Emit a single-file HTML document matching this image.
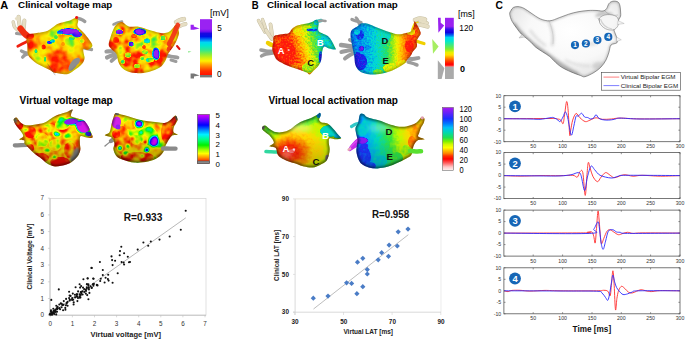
<!DOCTYPE html>
<html><head><meta charset="utf-8"><style>
html,body{margin:0;padding:0;background:#fff;width:685px;height:339px;overflow:hidden;}
svg{display:block;font-family:"Liberation Sans",sans-serif;}
</style></head><body>
<svg width="685" height="339" viewBox="0 0 685 339" font-family='"Liberation Sans", sans-serif'>
<defs><filter id="b0_5" x="-50%" y="-50%" width="200%" height="200%" color-interpolation-filters="sRGB"><feGaussianBlur stdDeviation="0.5"/></filter><filter id="b0_8" x="-50%" y="-50%" width="200%" height="200%" color-interpolation-filters="sRGB"><feGaussianBlur stdDeviation="0.8"/></filter><filter id="b1_2" x="-50%" y="-50%" width="200%" height="200%" color-interpolation-filters="sRGB"><feGaussianBlur stdDeviation="1.2"/></filter><filter id="b1_8" x="-50%" y="-50%" width="200%" height="200%" color-interpolation-filters="sRGB"><feGaussianBlur stdDeviation="1.8"/></filter><filter id="b2_5" x="-50%" y="-50%" width="200%" height="200%" color-interpolation-filters="sRGB"><feGaussianBlur stdDeviation="2.5"/></filter><filter id="b3_5" x="-50%" y="-50%" width="200%" height="200%" color-interpolation-filters="sRGB"><feGaussianBlur stdDeviation="3.5"/></filter><clipPath id="A1c"><path d="M27.5,34.6 C29.0,33.6 33.1,33.5 35.3,33.2 C37.5,32.9 38.8,32.9 40.5,32.6 C42.2,32.3 44.1,32.0 45.6,31.5 C47.1,31.0 48.4,30.2 49.8,29.4 C51.2,28.5 52.5,27.3 53.9,26.4 C55.3,25.5 56.3,24.5 58.0,23.8 C59.7,23.1 62.0,22.6 64.0,22.0 C66.0,21.4 68.1,21.2 70.0,20.5 C71.9,19.8 74.1,18.0 75.5,18.0 C76.9,18.0 77.9,19.2 78.2,20.5 C78.5,21.8 76.9,24.2 77.5,26.0 C78.1,27.8 80.2,29.0 82.0,31.0 C83.8,33.0 86.3,35.6 88.0,38.0 C89.7,40.4 92.4,43.5 92.4,45.5 C92.4,47.5 89.5,49.2 88.0,49.8 C86.5,50.4 84.2,48.3 83.5,49.0 C82.8,49.7 83.6,52.5 83.8,54.0 C84.0,55.5 84.7,56.7 84.6,58.0 C84.5,59.3 84.1,60.8 83.4,62.0 C82.7,63.2 81.8,64.2 80.5,65.4 C79.2,66.6 77.4,68.0 75.6,69.3 C73.8,70.6 71.4,72.4 69.8,73.2 C68.2,74.0 67.7,74.2 65.9,74.2 C64.1,74.2 61.1,73.6 59.1,73.4 C57.1,73.2 55.7,73.3 54.2,72.8 C52.7,72.3 51.9,71.2 50.3,70.3 C48.7,69.4 46.8,68.5 44.5,67.4 C42.2,66.3 39.0,65.0 36.7,63.5 C34.4,62.0 32.3,60.2 30.8,58.6 C29.3,57.0 28.4,56.0 27.8,53.8 C27.2,51.6 27.5,47.9 27.3,45.4 C27.1,42.9 26.5,40.8 26.5,39.0 C26.5,37.2 26.0,35.6 27.5,34.6Z"/></clipPath><filter id="A1f" x="-5%" y="-5%" width="110%" height="110%" color-interpolation-filters="sRGB"><feTurbulence type="fractalNoise" baseFrequency="0.12" numOctaves="2" seed="3" result="n0"/><feColorMatrix in="n0" type="matrix" values="1 0 0 0 0  1 0 0 0 0  1 0 0 0 0  0 0 0 0 1" result="n"/><feComposite in="SourceGraphic" in2="n" operator="arithmetic" k1="0" k2="1" k3="0.42" k4="-0.210" result="vn"/><feComponentTransfer in="vn"><feFuncR type="table" tableValues="1.000 1.000 1.000 0.980 0.550 0.150 0.000 0.020 0.100 0.450 0.600"/><feFuncG type="table" tableValues="0.080 0.450 0.780 0.950 0.930 0.900 0.880 0.450 0.100 0.080 0.120"/><feFuncB type="table" tableValues="0.000 0.000 0.000 0.000 0.100 0.350 0.850 0.980 0.950 0.950 0.950"/><feFuncA type="linear" slope="0" intercept="1"/></feComponentTransfer></filter><clipPath id="A2c"><path d="M113.5,29.0 C114.7,26.5 115.6,25.2 117.0,24.0 C118.4,22.8 120.1,21.6 122.1,22.0 C124.1,22.4 126.2,25.8 128.8,26.6 C131.4,27.4 133.9,26.0 137.6,26.6 C141.3,27.2 146.8,29.4 150.9,30.5 C155.0,31.6 159.0,32.9 161.9,33.2 C164.8,33.5 166.8,33.0 168.6,32.1 C170.4,31.2 171.7,29.3 173.0,28.0 C174.3,26.7 175.3,23.8 176.3,24.5 C177.3,25.2 178.8,29.7 179.0,32.1 C179.2,34.5 178.2,36.6 177.4,38.8 C176.6,41.0 175.6,43.0 174.1,45.4 C172.6,47.8 170.1,50.5 168.6,53.1 C167.1,55.7 166.8,58.5 165.3,60.9 C163.8,63.3 162.5,65.7 159.7,67.5 C156.9,69.3 152.8,71.0 148.7,71.9 C144.6,72.8 139.5,73.5 135.4,73.1 C131.3,72.7 127.1,71.4 124.3,69.7 C121.5,68.0 120.1,65.7 118.8,63.1 C117.5,60.5 117.7,56.4 116.6,54.2 C115.5,52.0 113.5,51.3 112.2,49.8 C110.9,48.3 109.2,47.2 108.8,45.4 C108.4,43.6 109.2,41.5 110.0,38.8 C110.8,36.1 112.3,31.5 113.5,29.0Z"/></clipPath><filter id="A2f" x="-5%" y="-5%" width="110%" height="110%" color-interpolation-filters="sRGB"><feTurbulence type="fractalNoise" baseFrequency="0.12" numOctaves="2" seed="5" result="n0"/><feColorMatrix in="n0" type="matrix" values="1 0 0 0 0  1 0 0 0 0  1 0 0 0 0  0 0 0 0 1" result="n"/><feComposite in="SourceGraphic" in2="n" operator="arithmetic" k1="0" k2="1" k3="0.65" k4="-0.325" result="vn"/><feComponentTransfer in="vn"><feFuncR type="table" tableValues="1.000 1.000 1.000 0.980 0.550 0.150 0.000 0.020 0.100 0.450 0.600"/><feFuncG type="table" tableValues="0.080 0.450 0.780 0.950 0.930 0.900 0.880 0.450 0.100 0.080 0.120"/><feFuncB type="table" tableValues="0.000 0.000 0.000 0.000 0.100 0.350 0.850 0.980 0.950 0.950 0.950"/><feFuncA type="linear" slope="0" intercept="1"/></feComponentTransfer></filter><clipPath id="A3c"><path d="M13.6,119.8 C13.6,118.4 15.4,117.1 16.5,117.5 C17.6,117.9 18.8,121.0 20.4,122.3 C22.0,123.6 23.2,124.9 26.1,125.2 C29.0,125.5 34.4,124.7 37.6,124.2 C40.8,123.7 43.0,123.3 45.3,122.3 C47.5,121.3 48.9,119.7 51.1,118.4 C53.3,117.1 56.2,115.6 58.7,114.6 C61.2,113.6 64.1,113.0 66.4,112.2 C68.7,111.4 71.7,109.2 72.5,109.5 C73.3,109.8 71.4,112.5 71.2,113.7 C71.0,114.9 70.4,115.7 71.5,116.5 C72.6,117.3 75.9,117.8 77.9,118.4 C79.9,119.0 82.1,119.2 83.7,120.3 C85.3,121.4 86.4,123.3 87.5,125.1 C88.6,126.9 89.6,128.8 90.4,130.9 C91.2,133.0 93.4,136.6 92.6,137.6 C91.8,138.6 87.6,137.4 85.6,137.2 C83.6,137.0 81.5,135.2 80.5,136.2 C79.5,137.2 79.9,141.2 79.9,143.4 C79.9,145.6 80.6,147.2 80.4,149.1 C80.2,151.0 79.7,153.0 78.5,154.9 C77.3,156.8 75.1,159.1 73.1,160.7 C71.1,162.3 69.4,163.6 66.4,164.5 C63.4,165.4 58.1,166.6 54.9,166.4 C51.7,166.2 49.4,164.8 47.2,163.5 C45.0,162.2 43.7,160.4 41.5,158.7 C39.3,156.9 36.0,154.9 33.8,153.0 C31.5,151.1 29.6,148.8 28.0,147.2 C26.4,145.6 25.1,144.6 24.5,143.5 C23.9,142.4 25.1,141.2 24.2,140.5 C23.3,139.8 19.6,140.2 19.4,139.5 C19.2,138.8 22.9,137.5 23.2,136.2 C23.5,134.9 22.4,133.6 21.3,131.9 C20.2,130.2 17.8,128.1 16.5,126.1 C15.2,124.1 13.6,121.2 13.6,119.8Z"/></clipPath><filter id="A3f" x="-5%" y="-5%" width="110%" height="110%" color-interpolation-filters="sRGB"><feTurbulence type="fractalNoise" baseFrequency="0.12" numOctaves="2" seed="7" result="n0"/><feColorMatrix in="n0" type="matrix" values="1 0 0 0 0  1 0 0 0 0  1 0 0 0 0  0 0 0 0 1" result="n"/><feComposite in="SourceGraphic" in2="n" operator="arithmetic" k1="0" k2="1" k3="0.6" k4="-0.300" result="vn"/><feComponentTransfer in="vn"><feFuncR type="table" tableValues="1.000 1.000 1.000 0.980 0.550 0.050 0.000 0.000 0.000 0.100 0.550 0.880"/><feFuncG type="table" tableValues="0.050 0.450 0.800 0.980 0.980 0.950 0.950 0.900 0.400 0.050 0.000 0.000"/><feFuncB type="table" tableValues="0.000 0.000 0.000 0.000 0.000 0.100 0.600 1.000 1.000 1.000 1.000 1.000"/><feFuncA type="linear" slope="0" intercept="1"/></feComponentTransfer></filter><linearGradient id="A3s" gradientUnits="userSpaceOnUse" x1="0" y1="134.8" x2="0" y2="169.4"><stop offset="0" stop-color="#000" stop-opacity="0"/><stop offset="1" stop-color="#000" stop-opacity="0.3"/></linearGradient><clipPath id="A4c"><path d="M113.4,117.5 C114.1,115.7 114.1,113.7 115.4,113.2 C116.7,112.7 118.9,114.0 121.1,114.6 C123.3,115.1 125.9,115.7 128.8,116.5 C131.7,117.3 135.2,118.6 138.4,119.4 C141.6,120.2 144.8,120.8 148.0,121.3 C151.2,121.8 154.7,122.0 157.6,122.3 C160.5,122.5 163.1,123.3 165.3,122.8 C167.5,122.3 169.3,120.6 171.0,119.4 C172.7,118.2 174.4,115.6 175.5,115.6 C176.6,115.6 177.4,118.2 177.5,119.5 C177.6,120.8 176.6,121.9 176.0,123.2 C175.4,124.5 174.3,125.6 173.9,127.1 C173.5,128.5 172.9,130.6 173.5,131.9 C174.1,133.2 177.9,134.2 177.7,134.8 C177.4,135.4 173.8,134.4 172.0,135.7 C170.2,137.0 168.3,140.6 167.2,142.4 C166.1,144.2 166.0,144.7 165.3,146.3 C164.7,147.9 164.6,150.1 163.3,152.0 C162.0,153.9 160.2,156.2 157.6,157.8 C155.0,159.4 151.8,160.8 148.0,161.6 C144.2,162.4 138.7,162.9 134.5,162.6 C130.3,162.3 126.0,160.8 123.0,159.7 C120.0,158.6 117.9,157.7 116.3,155.9 C114.7,154.1 113.7,151.2 113.4,149.1 C113.1,147.0 114.7,145.3 114.4,143.4 C114.1,141.5 113.1,138.8 111.5,137.5 C109.9,136.2 105.1,136.2 104.8,135.3 C104.5,134.4 108.5,133.8 109.6,131.9 C110.7,130.1 110.9,126.6 111.5,124.2 C112.1,121.8 112.8,119.3 113.4,117.5Z"/></clipPath><filter id="A4f" x="-5%" y="-5%" width="110%" height="110%" color-interpolation-filters="sRGB"><feTurbulence type="fractalNoise" baseFrequency="0.12" numOctaves="2" seed="9" result="n0"/><feColorMatrix in="n0" type="matrix" values="1 0 0 0 0  1 0 0 0 0  1 0 0 0 0  0 0 0 0 1" result="n"/><feComposite in="SourceGraphic" in2="n" operator="arithmetic" k1="0" k2="1" k3="0.5" k4="-0.250" result="vn"/><feComponentTransfer in="vn"><feFuncR type="table" tableValues="1.000 1.000 1.000 0.980 0.550 0.050 0.000 0.000 0.000 0.100 0.550 0.880"/><feFuncG type="table" tableValues="0.050 0.450 0.800 0.980 0.980 0.950 0.950 0.900 0.400 0.050 0.000 0.000"/><feFuncB type="table" tableValues="0.000 0.000 0.000 0.000 0.000 0.100 0.600 1.000 1.000 1.000 1.000 1.000"/><feFuncA type="linear" slope="0" intercept="1"/></feComponentTransfer></filter><linearGradient id="A4s" gradientUnits="userSpaceOnUse" x1="0" y1="135.1" x2="0" y2="165.6"><stop offset="0" stop-color="#000" stop-opacity="0"/><stop offset="1" stop-color="#000" stop-opacity="0.35"/></linearGradient><clipPath id="B1c"><path d="M274.2,36.1 C275.6,34.8 279.5,34.7 281.9,34.2 C284.3,33.7 287.0,34.0 288.6,33.2 C290.2,32.4 290.4,30.5 291.5,29.4 C292.6,28.3 293.7,27.3 295.3,26.5 C296.9,25.7 299.2,25.1 301.1,24.6 C303.0,24.1 304.9,24.1 306.8,23.6 C308.7,23.1 311.0,22.3 312.6,21.7 C314.2,21.1 315.4,19.6 316.4,19.8 C317.4,20.0 318.3,21.2 318.6,23.0 C318.9,24.8 317.7,28.7 318.3,30.4 C318.9,32.1 320.6,32.2 322.2,33.2 C323.8,34.2 326.3,34.8 327.9,36.1 C329.5,37.4 330.7,39.1 331.8,40.9 C332.9,42.7 334.1,45.3 334.7,46.7 C335.3,48.1 336.6,49.2 335.6,49.5 C334.6,49.8 330.8,49.1 328.9,48.6 C327.0,48.1 325.2,46.2 324.1,46.7 C323.0,47.2 322.7,49.3 322.2,51.5 C321.7,53.7 321.8,57.7 321.2,60.1 C320.6,62.5 319.6,64.1 318.3,65.9 C317.0,67.7 314.9,69.3 313.5,70.7 C312.1,72.1 310.8,74.2 309.7,74.5 C308.6,74.8 308.1,73.2 306.8,72.6 C305.5,72.0 304.2,71.5 302.0,70.7 C299.8,69.9 296.4,68.9 293.4,67.8 C290.4,66.7 286.5,65.2 283.8,63.9 C281.1,62.6 278.7,61.5 277.1,60.1 C275.5,58.7 275.0,57.1 274.2,55.3 C273.4,53.5 272.5,51.7 272.3,49.5 C272.1,47.3 272.9,44.1 273.2,41.9 C273.5,39.7 272.8,37.4 274.2,36.1Z"/></clipPath><filter id="B1f" x="-5%" y="-5%" width="110%" height="110%" color-interpolation-filters="sRGB"><feTurbulence type="fractalNoise" baseFrequency="0.55" numOctaves="2" seed="11" result="n0"/><feColorMatrix in="n0" type="matrix" values="1 0 0 0 0  1 0 0 0 0  1 0 0 0 0  0 0 0 0 1" result="n"/><feComposite in="SourceGraphic" in2="n" operator="arithmetic" k1="0" k2="1" k3="0.28" k4="-0.140" result="vn"/><feComponentTransfer in="vn"><feFuncR type="table" tableValues="1.000 1.000 1.000 0.950 0.550 0.150 0.000 0.000 0.080 0.500"/><feFuncG type="table" tableValues="0.100 0.450 0.750 0.950 0.920 0.880 0.850 0.500 0.120 0.100"/><feFuncB type="table" tableValues="0.050 0.000 0.000 0.000 0.100 0.400 0.850 0.950 0.900 0.920"/><feFuncA type="linear" slope="0" intercept="1"/></feComponentTransfer></filter><linearGradient id="B1g" gradientUnits="userSpaceOnUse" x1="282" y1="55" x2="330" y2="40"><stop offset="0" stop-color="rgb(0,0,0)"/><stop offset="0.25" stop-color="rgb(10,10,10)"/><stop offset="0.42" stop-color="rgb(51,51,51)"/><stop offset="0.55" stop-color="rgb(92,92,92)"/><stop offset="0.7" stop-color="rgb(128,128,128)"/><stop offset="0.82" stop-color="rgb(153,153,153)"/><stop offset="1" stop-color="rgb(171,171,171)"/></linearGradient><clipPath id="B2c"><path d="M351.5,30.4 C352.6,28.8 355.7,27.6 357.3,26.5 C358.9,25.4 359.5,24.1 361.1,23.6 C362.7,23.1 364.7,23.1 366.9,23.6 C369.1,24.1 371.9,25.5 374.5,26.5 C377.1,27.5 379.6,28.4 382.2,29.4 C384.8,30.4 387.3,31.5 389.9,32.3 C392.5,33.1 395.0,34.1 397.6,34.2 C400.2,34.4 403.1,33.7 405.3,33.2 C407.5,32.7 409.6,32.4 411.0,31.3 C412.4,30.2 413.2,28.1 413.9,26.5 C414.5,24.9 413.8,20.5 414.9,21.5 C416.0,22.5 420.0,29.7 420.6,32.3 C421.2,34.9 419.3,35.7 418.7,37.1 C418.1,38.5 417.1,39.3 416.8,40.9 C416.5,42.5 417.5,44.9 416.8,46.7 C416.1,48.5 413.9,50.1 412.9,51.5 C411.9,52.9 412.0,53.9 411.0,55.3 C410.0,56.7 407.9,58.7 407.0,60.0 C406.1,61.3 406.6,61.9 405.3,63.0 C404.1,64.1 401.8,65.5 399.5,66.8 C397.2,68.1 394.7,69.6 391.8,70.7 C388.9,71.8 385.4,72.9 382.2,73.5 C379.0,74.1 375.5,74.5 372.6,74.5 C369.7,74.5 367.2,74.1 365.0,73.5 C362.8,72.9 360.8,72.1 359.2,70.7 C357.6,69.3 356.2,67.2 355.4,64.9 C354.6,62.7 354.8,59.7 354.4,57.2 C354.0,54.7 353.5,52.5 353.0,50.0 C352.5,47.5 351.9,44.2 351.5,41.9 C351.1,39.6 350.6,38.0 350.6,36.1 C350.6,34.2 350.4,32.0 351.5,30.4Z"/></clipPath><filter id="B2f" x="-5%" y="-5%" width="110%" height="110%" color-interpolation-filters="sRGB"><feTurbulence type="fractalNoise" baseFrequency="0.55" numOctaves="2" seed="13" result="n0"/><feColorMatrix in="n0" type="matrix" values="1 0 0 0 0  1 0 0 0 0  1 0 0 0 0  0 0 0 0 1" result="n"/><feComposite in="SourceGraphic" in2="n" operator="arithmetic" k1="0" k2="1" k3="0.2" k4="-0.100" result="vn"/><feComponentTransfer in="vn"><feFuncR type="table" tableValues="1.000 1.000 1.000 0.950 0.550 0.150 0.000 0.000 0.080 0.500"/><feFuncG type="table" tableValues="0.100 0.450 0.750 0.950 0.920 0.880 0.850 0.500 0.120 0.100"/><feFuncB type="table" tableValues="0.050 0.000 0.000 0.000 0.100 0.400 0.850 0.950 0.900 0.920"/><feFuncA type="linear" slope="0" intercept="1"/></feComponentTransfer></filter><linearGradient id="B2g" gradientUnits="userSpaceOnUse" x1="350" y1="45" x2="418" y2="45"><stop offset="0" stop-color="rgb(204,204,204)"/><stop offset="0.18" stop-color="rgb(189,189,189)"/><stop offset="0.37" stop-color="rgb(171,171,171)"/><stop offset="0.52" stop-color="rgb(148,148,148)"/><stop offset="0.62" stop-color="rgb(115,115,115)"/><stop offset="0.71" stop-color="rgb(76,76,76)"/><stop offset="0.8" stop-color="rgb(36,36,36)"/><stop offset="0.9" stop-color="rgb(8,8,8)"/><stop offset="1" stop-color="rgb(20,20,20)"/></linearGradient><clipPath id="B3c"><path d="M262.4,126.8 C262.8,126.1 263.8,125.1 265.1,125.6 C266.4,126.0 268.6,128.4 270.4,129.5 C272.2,130.6 273.6,131.7 275.7,132.1 C277.8,132.5 280.4,132.5 282.8,132.1 C285.2,131.7 287.5,130.8 289.9,129.5 C292.2,128.2 294.5,125.7 296.9,124.2 C299.2,122.7 301.6,121.6 304.0,120.6 C306.4,119.6 309.0,118.9 311.1,118.0 C313.2,117.1 314.9,116.2 316.4,115.3 C317.9,114.4 319.2,112.7 319.9,112.7 C320.6,112.7 320.9,114.1 320.8,115.3 C320.7,116.5 319.0,118.5 319.1,119.7 C319.2,120.9 320.4,121.8 321.7,122.4 C323.0,123.0 325.2,122.4 327.0,123.3 C328.8,124.2 330.5,125.9 332.3,127.7 C334.1,129.5 336.1,132.1 337.6,133.9 C339.1,135.7 341.5,137.4 341.2,138.3 C340.9,139.2 337.8,139.2 335.9,139.2 C334.0,139.2 330.9,137.7 329.7,138.3 C328.5,138.9 328.8,140.9 328.8,142.7 C328.8,144.5 329.7,146.8 329.7,148.9 C329.7,151.0 329.4,153.0 328.8,155.1 C328.2,157.2 327.6,159.7 326.1,161.3 C324.6,162.9 322.2,163.9 320.0,164.9 C317.8,165.9 315.6,167.2 312.9,167.5 C310.2,167.8 306.7,167.2 304.0,166.6 C301.3,166.0 299.5,164.9 296.9,164.0 C294.2,163.1 290.8,162.3 288.1,161.3 C285.5,160.3 282.8,159.0 281.0,157.8 C279.2,156.6 278.4,155.8 277.5,154.2 C276.6,152.6 277.0,149.3 275.7,148.0 C274.4,146.7 269.8,147.2 269.5,146.3 C269.2,145.4 273.8,144.3 273.9,142.7 C274.0,141.1 271.9,138.3 270.4,136.5 C268.9,134.7 266.4,133.3 265.1,132.1 C263.8,130.9 262.8,130.4 262.4,129.5 C261.9,128.6 261.9,127.5 262.4,126.8Z"/></clipPath><filter id="B3f" x="-5%" y="-5%" width="110%" height="110%" color-interpolation-filters="sRGB"><feTurbulence type="fractalNoise" baseFrequency="0.3" numOctaves="2" seed="15" result="n0"/><feColorMatrix in="n0" type="matrix" values="1 0 0 0 0  1 0 0 0 0  1 0 0 0 0  0 0 0 0 1" result="n"/><feComposite in="SourceGraphic" in2="n" operator="arithmetic" k1="0" k2="1" k3="0.1" k4="-0.050" result="vn"/><feComponentTransfer in="vn"><feFuncR type="table" tableValues="1.000 1.000 1.000 1.000 0.750 0.200 0.000 0.000 0.100 0.550"/><feFuncG type="table" tableValues="0.450 0.080 0.500 0.850 0.980 0.900 0.850 0.650 0.200 0.100"/><feFuncB type="table" tableValues="0.450 0.020 0.000 0.000 0.000 0.250 0.750 1.000 1.000 0.950"/><feFuncA type="linear" slope="0" intercept="1"/></feComponentTransfer></filter><linearGradient id="B3s" gradientUnits="userSpaceOnUse" x1="0" y1="137.1" x2="0" y2="170.5"><stop offset="0" stop-color="#000" stop-opacity="0"/><stop offset="1" stop-color="#000" stop-opacity="0.22"/></linearGradient><clipPath id="B4c"><path d="M358.2,122.4 C358.9,120.2 359.0,115.8 359.9,114.4 C360.8,113.0 362.3,113.5 363.5,113.9 C364.7,114.4 365.5,116.3 367.0,117.1 C368.5,117.9 370.2,118.2 372.3,118.8 C374.4,119.4 377.0,119.8 379.4,120.6 C381.8,121.3 383.9,122.4 386.5,123.3 C389.1,124.2 392.4,125.3 395.3,125.9 C398.2,126.5 401.5,127.0 404.2,126.8 C406.9,126.6 409.2,125.7 411.3,125.0 C413.4,124.3 415.1,123.4 416.6,122.4 C418.1,121.4 419.2,119.7 420.1,118.8 C421.0,117.9 421.2,117.1 421.9,117.1 C422.6,117.1 424.2,117.8 424.5,118.8 C424.8,119.8 424.2,121.8 423.6,123.3 C423.0,124.8 421.7,126.1 421.0,127.7 C420.3,129.3 419.6,131.5 419.2,133.0 C418.8,134.5 417.4,135.5 418.3,136.5 C419.2,137.5 424.5,138.6 424.5,139.2 C424.5,139.8 419.9,139.4 418.3,140.1 C416.7,140.8 415.7,142.3 414.8,143.6 C413.9,144.9 413.6,146.1 413.0,148.0 C412.4,149.9 412.5,153.3 411.3,155.1 C410.1,156.9 408.3,157.4 405.9,158.7 C403.5,160.0 400.1,161.8 397.1,163.1 C394.2,164.4 391.4,165.7 388.2,166.6 C384.9,167.5 380.8,168.2 377.6,168.4 C374.4,168.6 371.5,168.2 368.8,167.5 C366.1,166.8 363.5,165.5 361.7,164.0 C359.9,162.5 359.1,160.8 358.2,158.7 C357.3,156.6 356.6,153.7 356.4,151.6 C356.2,149.5 356.6,147.9 356.8,146.0 C357.0,144.1 357.6,142.2 357.5,140.0 C357.4,137.8 356.3,135.1 356.0,133.0 C355.7,130.9 355.1,129.5 355.5,127.7 C355.9,125.9 357.5,124.6 358.2,122.4Z"/></clipPath><filter id="B4f" x="-5%" y="-5%" width="110%" height="110%" color-interpolation-filters="sRGB"><feTurbulence type="fractalNoise" baseFrequency="0.3" numOctaves="2" seed="17" result="n0"/><feColorMatrix in="n0" type="matrix" values="1 0 0 0 0  1 0 0 0 0  1 0 0 0 0  0 0 0 0 1" result="n"/><feComposite in="SourceGraphic" in2="n" operator="arithmetic" k1="0" k2="1" k3="0.1" k4="-0.050" result="vn"/><feComponentTransfer in="vn"><feFuncR type="table" tableValues="1.000 1.000 1.000 1.000 0.750 0.200 0.000 0.000 0.100 0.550"/><feFuncG type="table" tableValues="0.450 0.080 0.500 0.850 0.980 0.900 0.850 0.650 0.200 0.100"/><feFuncB type="table" tableValues="0.450 0.020 0.000 0.000 0.000 0.250 0.750 1.000 1.000 0.950"/><feFuncA type="linear" slope="0" intercept="1"/></feComponentTransfer></filter><linearGradient id="B4g" gradientUnits="userSpaceOnUse" x1="352" y1="140" x2="422" y2="128"><stop offset="0" stop-color="rgb(219,219,219)"/><stop offset="0.18" stop-color="rgb(199,199,199)"/><stop offset="0.33" stop-color="rgb(173,173,173)"/><stop offset="0.5" stop-color="rgb(145,145,145)"/><stop offset="0.64" stop-color="rgb(117,117,117)"/><stop offset="0.78" stop-color="rgb(89,89,89)"/><stop offset="0.9" stop-color="rgb(64,64,64)"/><stop offset="1" stop-color="rgb(76,76,76)"/></linearGradient><linearGradient id="B4s" gradientUnits="userSpaceOnUse" x1="0" y1="138.1" x2="0" y2="171.4"><stop offset="0" stop-color="#000" stop-opacity="0"/><stop offset="1" stop-color="#000" stop-opacity="0.22"/></linearGradient><radialGradient id="cg" cx="0.55" cy="0.4" r="0.7"><stop offset="0" stop-color="#ffffff"/><stop offset="0.55" stop-color="#f8f8f8"/><stop offset="0.85" stop-color="#e6e6e6"/><stop offset="1" stop-color="#cfcfcf"/></radialGradient><clipPath id="Cc"><path d="M510.9,10.6 C511.5,9.5 512.1,8.2 513.3,7.5 C514.5,6.8 516.2,6.5 518.0,6.6 C519.8,6.7 521.7,7.2 523.9,8.3 C526.1,9.4 528.2,11.2 531.0,13.0 C533.8,14.8 537.3,17.6 540.4,18.9 C543.5,20.2 546.7,21.0 549.8,20.8 C552.9,20.6 556.1,18.8 559.2,17.7 C562.4,16.6 565.6,15.2 568.7,14.2 C571.8,13.2 574.8,12.4 578.0,11.8 C581.2,11.2 584.8,10.7 588.0,10.5 C591.2,10.3 594.5,10.4 597.0,10.5 C599.5,10.6 601.4,11.3 603.0,11.0 C604.6,10.7 605.5,10.1 606.5,8.8 C607.5,7.6 607.9,4.8 609.0,3.5 C610.1,2.2 611.5,1.4 613.0,1.2 C614.5,0.9 616.8,1.2 618.0,2.0 C619.2,2.8 619.6,4.3 620.0,6.0 C620.4,7.7 620.5,10.3 620.6,12.0 C620.7,13.7 620.9,15.0 620.6,16.2 C620.3,17.4 619.5,18.0 619.0,19.0 C618.5,20.0 618.1,20.7 617.6,22.0 C617.1,23.3 616.6,25.8 616.0,27.0 C615.4,28.2 614.1,28.3 614.0,29.5 C613.9,30.7 614.9,32.5 615.4,34.0 C615.9,35.5 616.8,37.0 617.0,38.5 C617.2,40.0 617.9,41.7 616.9,42.8 C615.9,43.9 612.3,43.5 611.0,45.0 C609.7,46.5 609.8,49.5 609.0,52.0 C608.2,54.5 607.3,57.5 606.0,60.0 C604.7,62.5 603.0,64.9 601.0,67.0 C599.0,69.1 596.7,70.9 594.0,72.5 C591.3,74.1 587.2,76.2 585.0,76.7 C582.8,77.2 582.8,76.3 580.5,75.5 C578.2,74.7 574.1,73.3 571.0,71.9 C567.9,70.5 564.1,68.8 561.6,67.2 C559.1,65.6 557.7,64.3 555.7,62.5 C553.7,60.7 552.0,58.4 549.8,56.6 C547.6,54.8 545.1,53.5 542.7,51.9 C540.4,50.3 538.1,49.2 535.7,47.2 C533.4,45.2 531.0,42.3 528.6,40.1 C526.2,37.9 523.5,36.2 521.5,34.2 C519.5,32.2 518.4,30.5 516.8,28.3 C515.2,26.1 513.2,23.6 512.0,21.2 C510.8,18.8 509.9,16.0 509.7,14.2 C509.5,12.4 510.3,11.7 510.9,10.6Z"/></clipPath><linearGradient id="cbA1" x1="0" y1="0" x2="0" y2="1"><stop offset="0.000" stop-color="#9a22f2"/><stop offset="0.175" stop-color="#9a22f2"/><stop offset="0.220" stop-color="#6a10f0"/><stop offset="0.255" stop-color="#1a08e0"/><stop offset="0.309" stop-color="#0010e8"/><stop offset="0.362" stop-color="#0070f8"/><stop offset="0.416" stop-color="#00d8f0"/><stop offset="0.470" stop-color="#00e8d0"/><stop offset="0.550" stop-color="#30e890"/><stop offset="0.621" stop-color="#80ec40"/><stop offset="0.693" stop-color="#d0f010"/><stop offset="0.746" stop-color="#fff000"/><stop offset="0.800" stop-color="#ffb000"/><stop offset="0.862" stop-color="#ff7000"/><stop offset="0.925" stop-color="#ff3000"/><stop offset="1.000" stop-color="#ff1000"/></linearGradient><linearGradient id="cbA2" x1="0" y1="0" x2="0" y2="1"><stop offset="0.000" stop-color="#d800ff"/><stop offset="0.077" stop-color="#9000ff"/><stop offset="0.217" stop-color="#0000ff"/><stop offset="0.313" stop-color="#0080ff"/><stop offset="0.410" stop-color="#00f0ff"/><stop offset="0.517" stop-color="#00ff80"/><stop offset="0.624" stop-color="#00f000"/><stop offset="0.721" stop-color="#a0ff00"/><stop offset="0.796" stop-color="#ffff00"/><stop offset="0.882" stop-color="#ff9000"/><stop offset="0.964" stop-color="#ff1000"/><stop offset="1.000" stop-color="#ff0000"/></linearGradient><linearGradient id="cbB1" x1="0" y1="0" x2="0" y2="1"><stop offset="0.000" stop-color="#9a22f0"/><stop offset="0.173" stop-color="#9a22f0"/><stop offset="0.235" stop-color="#3010e8"/><stop offset="0.298" stop-color="#1000e0"/><stop offset="0.351" stop-color="#0060f0"/><stop offset="0.402" stop-color="#00d8f0"/><stop offset="0.473" stop-color="#00e8d0"/><stop offset="0.555" stop-color="#40e880"/><stop offset="0.637" stop-color="#80ec30"/><stop offset="0.708" stop-color="#e8f000"/><stop offset="0.759" stop-color="#ffe000"/><stop offset="0.820" stop-color="#ff9000"/><stop offset="0.882" stop-color="#ff4000"/><stop offset="0.949" stop-color="#ff0000"/><stop offset="1.000" stop-color="#ff5050"/></linearGradient><linearGradient id="cbB2" x1="0" y1="0" x2="0" y2="1"><stop offset="0.000" stop-color="#a818f0"/><stop offset="0.072" stop-color="#7020f8"/><stop offset="0.180" stop-color="#1830ff"/><stop offset="0.255" stop-color="#0078ff"/><stop offset="0.322" stop-color="#00c0f8"/><stop offset="0.398" stop-color="#00d8b0"/><stop offset="0.481" stop-color="#20e050"/><stop offset="0.541" stop-color="#80f000"/><stop offset="0.586" stop-color="#d0f800"/><stop offset="0.640" stop-color="#ffff00"/><stop offset="0.685" stop-color="#ffc000"/><stop offset="0.728" stop-color="#ff8800"/><stop offset="0.772" stop-color="#ff3000"/><stop offset="0.820" stop-color="#ff0000"/><stop offset="0.884" stop-color="#ff6060"/><stop offset="0.947" stop-color="#ffc8c8"/><stop offset="1.000" stop-color="#fff0f0"/></linearGradient></defs>
<rect width="685" height="339" fill="#fff"/>
<text x="0.3" y="8.9" font-size="10.6" font-weight="bold" text-anchor="start" fill="#000" textLength="8.0" lengthAdjust="spacingAndGlyphs" >A</text>
<text x="18.1" y="8.2" font-size="9.9" font-weight="bold" text-anchor="start" fill="#000" textLength="94.2" lengthAdjust="spacingAndGlyphs" >Clinical voltage map</text>
<text x="19.6" y="104.2" font-size="10.2" font-weight="bold" text-anchor="start" fill="#000" textLength="93.1" lengthAdjust="spacingAndGlyphs" >Virtual voltage map</text>
<text x="251.8" y="8.8" font-size="10.6" font-weight="bold" text-anchor="start" fill="#000" textLength="6.9" lengthAdjust="spacingAndGlyphs" >B</text>
<text x="266.9" y="8.3" font-size="9.9" font-weight="bold" text-anchor="start" fill="#000" textLength="130.9" lengthAdjust="spacingAndGlyphs" >Clinical local activation map</text>
<text x="268.6" y="104.2" font-size="10.1" font-weight="bold" text-anchor="start" fill="#000" textLength="129.2" lengthAdjust="spacingAndGlyphs" >Virtual local activation map</text>
<text x="495.6" y="8.8" font-size="10.6" font-weight="bold" text-anchor="start" fill="#000" textLength="7.4" lengthAdjust="spacingAndGlyphs" >C</text>
<path d="M13.2,22.0 C13.4,22.8 13.8,25.7 14.5,27.0 C15.2,28.3 17.0,29.5 17.5,30.0" stroke="#c8c0a4" stroke-width="3.4" fill="none" stroke-linecap="round" stroke-linejoin="round"/>
<path d="M13.2,22.0 C13.4,22.8 13.8,25.7 14.5,27.0 C15.2,28.3 17.0,29.5 17.5,30.0" stroke="#e6dec4" stroke-width="2.4" fill="none" stroke-linecap="round" stroke-linejoin="round"/>
<path d="M18.6,16.8 C18.7,17.8 19.0,20.8 19.3,23.0 C19.6,25.2 20.3,28.8 20.5,30.0" stroke="#c8c0a4" stroke-width="4.2" fill="none" stroke-linecap="round" stroke-linejoin="round"/>
<path d="M18.6,16.8 C18.7,17.8 19.0,20.8 19.3,23.0 C19.6,25.2 20.3,28.8 20.5,30.0" stroke="#e6dec4" stroke-width="3.2" fill="none" stroke-linecap="round" stroke-linejoin="round"/>
<path d="M24.4,20.5 C24.3,21.4 24.1,24.4 24.0,26.0 C23.9,27.6 23.6,29.3 23.5,30.0" stroke="#c8c0a4" stroke-width="4.0" fill="none" stroke-linecap="round" stroke-linejoin="round"/>
<path d="M24.4,20.5 C24.3,21.4 24.1,24.4 24.0,26.0 C23.9,27.6 23.6,29.3 23.5,30.0" stroke="#e6dec4" stroke-width="3.0" fill="none" stroke-linecap="round" stroke-linejoin="round"/>
<path d="M16.0,18.5 L18.0,20.0" stroke="#e6dec4" stroke-width="2.4" fill="none" stroke-linecap="round" stroke-linejoin="round"/>
<path d="M16.5,33.5 L21.0,34.0" stroke="#9c9c9c" stroke-width="3.2" fill="none" stroke-linecap="round" stroke-linejoin="round"/>
<path d="M21.5,51.0 C22.2,51.3 24.6,52.6 26.0,53.0 C27.4,53.4 29.3,53.4 30.0,53.5" stroke="#9c9c9c" stroke-width="3.4" fill="none" stroke-linecap="round" stroke-linejoin="round"/>
<path d="M22.6,57.2 C23.0,56.8 23.9,55.6 25.0,55.0 C26.1,54.4 28.3,53.8 29.0,53.5" stroke="#9c9c9c" stroke-width="3.2" fill="none" stroke-linecap="round" stroke-linejoin="round"/>
<path d="M17.8,46.2 C18.7,45.8 21.3,44.4 23.0,43.5 C24.7,42.6 27.2,41.4 28.0,41.0" stroke="#f02010" stroke-width="2.8" fill="none" stroke-linecap="round" stroke-linejoin="round"/>
<path d="M20.5,28.5 C21.2,29.3 23.0,32.0 24.5,33.5 C26.0,35.0 28.7,36.8 29.5,37.5" stroke="#f03010" stroke-width="6.2" fill="none" stroke-linecap="round" stroke-linejoin="round"/>
<path d="M77.0,18.0 C77.8,18.3 80.7,19.2 82.0,19.8 C83.3,20.4 84.3,21.2 84.8,21.5" stroke="#9c9c9c" stroke-width="3.4" fill="none" stroke-linecap="round" stroke-linejoin="round"/>
<path d="M82.0,47.0 C82.8,47.2 85.4,48.1 87.0,48.5 C88.6,48.9 90.8,49.3 91.5,49.5" stroke="#9c9c9c" stroke-width="3.4" fill="none" stroke-linecap="round" stroke-linejoin="round"/>
<g clip-path="url(#A1c)"><g filter="url(#A1f)"><rect x="23.5" y="15.0" width="71.9" height="62.2" fill="rgb(51,51,51)"/><g filter="url(#b2_5)"><ellipse cx="30" cy="40" rx="4" ry="8" fill="rgb(8,8,8)"/><ellipse cx="35" cy="47" rx="4" ry="5" fill="rgb(26,26,26)"/><ellipse cx="41" cy="54" rx="6" ry="10" fill="rgb(84,84,84)"/><ellipse cx="38" cy="62" rx="4" ry="4" fill="rgb(76,76,76)"/><ellipse cx="48" cy="36" rx="6" ry="3" fill="rgb(115,115,115)"/><ellipse cx="54" cy="35" rx="4" ry="3" fill="rgb(128,128,128)"/><ellipse cx="58" cy="60" rx="12" ry="10" fill="rgb(8,8,8)"/><ellipse cx="66" cy="66" rx="8" ry="6" fill="rgb(13,13,13)"/><ellipse cx="52" cy="66" rx="5" ry="6" fill="rgb(20,20,20)"/><ellipse cx="69" cy="43" rx="9" ry="7" fill="rgb(94,94,94)"/><ellipse cx="75" cy="47" rx="5" ry="4" fill="rgb(82,82,82)"/><ellipse cx="86" cy="44" rx="5" ry="5" fill="rgb(31,31,31)"/><ellipse cx="66" cy="25" rx="8" ry="3" fill="rgb(89,89,89)"/><ellipse cx="72" cy="22" rx="5" ry="2" fill="rgb(115,115,115)"/><ellipse cx="44" cy="46" rx="4" ry="4" fill="rgb(51,51,51)"/><ellipse cx="62" cy="49" rx="4" ry="3" fill="rgb(38,38,38)"/></g><g filter="url(#b1_0)"><ellipse cx="43.6" cy="47" rx="2.2" ry="2.5" fill="rgb(0,0,0)"/><ellipse cx="49.5" cy="42.5" rx="2.8" ry="1.4" fill="rgb(204,204,204)"/><ellipse cx="52.5" cy="41" rx="2.6" ry="1.8" fill="rgb(153,153,153)"/><ellipse cx="69" cy="31.5" rx="10" ry="3.2" fill="rgb(255,255,255)"/><ellipse cx="77" cy="34.5" rx="5" ry="3" fill="rgb(230,230,230)"/><ellipse cx="60" cy="32.5" rx="3" ry="2" fill="rgb(178,178,178)"/><ellipse cx="56" cy="37" rx="2" ry="2" fill="rgb(128,128,128)"/><ellipse cx="36" cy="51" rx="1.5" ry="2" fill="rgb(128,128,128)"/><ellipse cx="45" cy="59" rx="1.2" ry="3" fill="rgb(128,128,128)"/><ellipse cx="30" cy="36" rx="4" ry="3" fill="rgb(0,0,0)"/><ellipse cx="72" cy="38" rx="3" ry="2" fill="rgb(128,128,128)"/><ellipse cx="82" cy="41" rx="2.5" ry="2" fill="rgb(89,89,89)"/><ellipse cx="63" cy="44" rx="2" ry="2" fill="rgb(51,51,51)"/></g></g><g filter="url(#b0_6)"><ellipse cx="73.5" cy="64.5" rx="3.2" ry="7.5" fill="#8e8e8e" transform="rotate(35 73.5 64.5)"/><ellipse cx="77.5" cy="61" rx="2.2" ry="3.5" fill="#8e8e8e" transform="rotate(20 77.5 61)"/></g><path d="M27.5,34.6 C29.0,33.6 33.1,33.5 35.3,33.2 C37.5,32.9 38.8,32.9 40.5,32.6 C42.2,32.3 44.1,32.0 45.6,31.5 C47.1,31.0 48.4,30.2 49.8,29.4 C51.2,28.5 52.5,27.3 53.9,26.4 C55.3,25.5 56.3,24.5 58.0,23.8 C59.7,23.1 62.0,22.6 64.0,22.0 C66.0,21.4 68.1,21.2 70.0,20.5 C71.9,19.8 74.1,18.0 75.5,18.0 C76.9,18.0 77.9,19.2 78.2,20.5 C78.5,21.8 76.9,24.2 77.5,26.0 C78.1,27.8 80.2,29.0 82.0,31.0 C83.8,33.0 86.3,35.6 88.0,38.0 C89.7,40.4 92.4,43.5 92.4,45.5 C92.4,47.5 89.5,49.2 88.0,49.8 C86.5,50.4 84.2,48.3 83.5,49.0 C82.8,49.7 83.6,52.5 83.8,54.0 C84.0,55.5 84.7,56.7 84.6,58.0 C84.5,59.3 84.1,60.8 83.4,62.0 C82.7,63.2 81.8,64.2 80.5,65.4 C79.2,66.6 77.4,68.0 75.6,69.3 C73.8,70.6 71.4,72.4 69.8,73.2 C68.2,74.0 67.7,74.2 65.9,74.2 C64.1,74.2 61.1,73.6 59.1,73.4 C57.1,73.2 55.7,73.3 54.2,72.8 C52.7,72.3 51.9,71.2 50.3,70.3 C48.7,69.4 46.8,68.5 44.5,67.4 C42.2,66.3 39.0,65.0 36.7,63.5 C34.4,62.0 32.3,60.2 30.8,58.6 C29.3,57.0 28.4,56.0 27.8,53.8 C27.2,51.6 27.5,47.9 27.3,45.4 C27.1,42.9 26.5,40.8 26.5,39.0 C26.5,37.2 26.0,35.6 27.5,34.6Z" fill="none" stroke="#000" stroke-width="3.0" opacity="0.25" filter="url(#b1_2)"/></g>
<path d="M47.4,63.5 L55.2,75.2" stroke="#333" stroke-width="0.5" opacity="0.6"/>
<circle cx="76.6" cy="17.6" r="1.5" fill="#f01010"/>
<path d="M113.5,24.5 C114.2,24.2 116.6,23.0 118.0,22.5 C119.4,22.0 121.3,21.7 122.0,21.5" stroke="#9c9c9c" stroke-width="2.6" fill="none" stroke-linecap="round" stroke-linejoin="round"/>
<path d="M106.5,51.5 C107.6,51.4 110.6,51.3 113.0,51.0 C115.4,50.7 119.7,49.8 121.0,49.5" stroke="#9c9c9c" stroke-width="4.2" fill="none" stroke-linecap="round" stroke-linejoin="round"/>
<path d="M107.0,57.5 C108.0,57.1 110.7,55.8 113.0,55.0 C115.3,54.2 119.7,53.3 121.0,53.0" stroke="#9c9c9c" stroke-width="4.2" fill="none" stroke-linecap="round" stroke-linejoin="round"/>
<path d="M111.5,61.0 C112.2,60.3 114.4,58.2 116.0,57.0 C117.6,55.8 120.2,54.5 121.0,54.0" stroke="#9c9c9c" stroke-width="3.8" fill="none" stroke-linecap="round" stroke-linejoin="round"/>
<path d="M113.0,46.0 C113.8,46.4 116.3,47.8 118.0,48.5 C119.7,49.2 122.2,49.8 123.0,50.0" stroke="#9c9c9c" stroke-width="3.8" fill="none" stroke-linecap="round" stroke-linejoin="round"/>
<ellipse cx="119" cy="52" rx="4" ry="4.5" fill="#9c9c9c"/>
<path d="M164.0,55.0 C165.2,55.2 168.8,56.1 171.0,56.5 C173.2,56.9 176.4,57.3 177.5,57.5" stroke="#9c9c9c" stroke-width="3.8" fill="none" stroke-linecap="round" stroke-linejoin="round"/>
<path d="M171.0,60.0 L176.0,61.5" stroke="#9c9c9c" stroke-width="3.0" fill="none" stroke-linecap="round" stroke-linejoin="round"/>
<path d="M176.0,22.0 C176.7,21.7 178.7,20.5 180.0,20.0 C181.3,19.5 183.3,19.2 184.0,19.0" stroke="#c8c0a4" stroke-width="4.4" fill="none" stroke-linecap="round" stroke-linejoin="round"/>
<path d="M176.0,22.0 C176.7,21.7 178.7,20.5 180.0,20.0 C181.3,19.5 183.3,19.2 184.0,19.0" stroke="#e6dec4" stroke-width="3.4" fill="none" stroke-linecap="round" stroke-linejoin="round"/>
<path d="M178.0,27.0 C178.7,26.7 180.8,25.5 182.0,25.0 C183.2,24.5 184.9,24.2 185.5,24.0" stroke="#c8c0a4" stroke-width="4.0" fill="none" stroke-linecap="round" stroke-linejoin="round"/>
<path d="M178.0,27.0 C178.7,26.7 180.8,25.5 182.0,25.0 C183.2,24.5 184.9,24.2 185.5,24.0" stroke="#e6dec4" stroke-width="3.0" fill="none" stroke-linecap="round" stroke-linejoin="round"/>
<path d="M177.0,46.0 L179.5,49.0" stroke="#e01010" stroke-width="2.0" fill="none" stroke-linecap="round" stroke-linejoin="round"/>
<g clip-path="url(#A2c)"><g filter="url(#A2f)"><rect x="105.8" y="19.0" width="76.2" height="57.1" fill="rgb(48,48,48)"/><g filter="url(#b2_5)"><ellipse cx="112" cy="44" rx="4" ry="4" fill="rgb(0,0,0)"/><ellipse cx="125" cy="40" rx="6" ry="7" fill="rgb(31,31,31)"/><ellipse cx="140" cy="44" rx="8" ry="6" fill="rgb(76,76,76)"/><ellipse cx="155" cy="42" rx="8" ry="7" fill="rgb(76,76,76)"/><ellipse cx="168" cy="42" rx="5" ry="7" fill="rgb(31,31,31)"/><ellipse cx="130" cy="62" rx="10" ry="7" fill="rgb(13,13,13)"/><ellipse cx="148" cy="64" rx="9" ry="6" fill="rgb(31,31,31)"/><ellipse cx="160" cy="58" rx="5" ry="5" fill="rgb(13,13,13)"/><ellipse cx="125" cy="30" rx="5" ry="4" fill="rgb(26,26,26)"/><ellipse cx="150" cy="35" rx="6" ry="3" fill="rgb(76,76,76)"/><ellipse cx="165" cy="36" rx="4" ry="3" fill="rgb(71,71,71)"/></g><g filter="url(#b1_0)"><ellipse cx="139.8" cy="31.8" rx="6.5" ry="3.6" fill="rgb(204,204,204)"/><ellipse cx="139.8" cy="31.8" rx="4.5" ry="2.2" fill="rgb(255,255,255)"/><ellipse cx="156" cy="54" rx="4" ry="6.5" fill="rgb(178,178,178)"/><ellipse cx="156.4" cy="54.2" rx="2.4" ry="4.6" fill="rgb(255,255,255)"/><ellipse cx="119.5" cy="32" rx="3.5" ry="2.5" fill="rgb(255,255,255)"/><ellipse cx="131" cy="44" rx="2.5" ry="2.5" fill="rgb(204,204,204)"/><ellipse cx="147" cy="41" rx="3" ry="2.5" fill="rgb(153,153,153)"/><ellipse cx="163" cy="38" rx="2.5" ry="2.5" fill="rgb(153,153,153)"/><ellipse cx="145" cy="52" rx="3" ry="2" fill="rgb(128,128,128)"/><ellipse cx="128" cy="55" rx="3" ry="2.5" fill="rgb(128,128,128)"/><ellipse cx="150" cy="60" rx="4" ry="2.5" fill="rgb(128,128,128)"/><ellipse cx="137" cy="66" rx="3" ry="2" fill="rgb(128,128,128)"/><ellipse cx="170" cy="48" rx="3" ry="2" fill="rgb(0,0,0)"/><ellipse cx="116" cy="40" rx="3" ry="3" fill="rgb(0,0,0)"/><ellipse cx="134" cy="36" rx="3" ry="2" fill="rgb(13,13,13)"/><ellipse cx="144" cy="47" rx="2" ry="2" fill="rgb(0,0,0)"/><ellipse cx="123" cy="62" rx="2" ry="2" fill="rgb(128,128,128)"/><ellipse cx="142" cy="58" rx="2" ry="2" fill="rgb(102,102,102)"/></g></g><path d="M113.5,29.0 C114.7,26.5 115.6,25.2 117.0,24.0 C118.4,22.8 120.1,21.6 122.1,22.0 C124.1,22.4 126.2,25.8 128.8,26.6 C131.4,27.4 133.9,26.0 137.6,26.6 C141.3,27.2 146.8,29.4 150.9,30.5 C155.0,31.6 159.0,32.9 161.9,33.2 C164.8,33.5 166.8,33.0 168.6,32.1 C170.4,31.2 171.7,29.3 173.0,28.0 C174.3,26.7 175.3,23.8 176.3,24.5 C177.3,25.2 178.8,29.7 179.0,32.1 C179.2,34.5 178.2,36.6 177.4,38.8 C176.6,41.0 175.6,43.0 174.1,45.4 C172.6,47.8 170.1,50.5 168.6,53.1 C167.1,55.7 166.8,58.5 165.3,60.9 C163.8,63.3 162.5,65.7 159.7,67.5 C156.9,69.3 152.8,71.0 148.7,71.9 C144.6,72.8 139.5,73.5 135.4,73.1 C131.3,72.7 127.1,71.4 124.3,69.7 C121.5,68.0 120.1,65.7 118.8,63.1 C117.5,60.5 117.7,56.4 116.6,54.2 C115.5,52.0 113.5,51.3 112.2,49.8 C110.9,48.3 109.2,47.2 108.8,45.4 C108.4,43.6 109.2,41.5 110.0,38.8 C110.8,36.1 112.3,31.5 113.5,29.0Z" fill="none" stroke="#000" stroke-width="3.0" opacity="0.25" filter="url(#b1_2)"/></g>
<path d="M169.0,44.0 C169.7,42.7 171.8,38.5 173.0,36.0 C174.2,33.5 175.2,30.8 176.0,29.0 C176.8,27.2 177.7,25.7 178.0,25.0" stroke="#f03818" stroke-width="4.6" fill="none" stroke-linecap="round" stroke-linejoin="round" opacity="0.95"/>
<path d="M168.0,50.0 L170.0,46.0" stroke="#f03818" stroke-width="3" fill="none" stroke-linecap="round" stroke-linejoin="round" opacity="0.9"/>
<path d="M14.8,145.3 C15.8,145.3 19.0,145.2 21.0,145.1 C23.0,145.0 26.0,145.0 27.0,145.0" stroke="#8a8a8a" stroke-width="4.2" fill="none" stroke-linecap="round" stroke-linejoin="round"/>
<g clip-path="url(#A3c)"><g filter="url(#A3f)"><rect x="10.6" y="106.5" width="85.0" height="62.9" fill="rgb(43,43,43)"/><g filter="url(#b3_0)"><ellipse cx="18" cy="125" rx="5" ry="5" fill="rgb(0,0,0)"/><ellipse cx="30" cy="132" rx="6" ry="6" fill="rgb(15,15,15)"/><ellipse cx="42" cy="140" rx="7" ry="7" fill="rgb(71,71,71)"/><ellipse cx="55" cy="145" rx="6" ry="6" fill="rgb(71,71,71)"/><ellipse cx="40" cy="158" rx="9" ry="5" fill="rgb(0,0,0)"/><ellipse cx="60" cy="162" rx="10" ry="5" fill="rgb(0,0,0)"/><ellipse cx="70" cy="150" rx="6" ry="8" fill="rgb(15,15,15)"/><ellipse cx="30" cy="148" rx="4" ry="4" fill="rgb(0,0,0)"/><ellipse cx="50" cy="128" rx="6" ry="4" fill="rgb(71,71,71)"/><ellipse cx="62" cy="125" rx="7" ry="5" fill="rgb(97,97,97)"/></g><g filter="url(#b1_2)"><ellipse cx="72" cy="121.5" rx="7" ry="3" fill="rgb(230,230,230)"/><ellipse cx="83" cy="126.5" rx="6.5" ry="6" fill="rgb(255,255,255)"/><ellipse cx="78" cy="123" rx="3" ry="2.5" fill="rgb(242,242,242)"/><ellipse cx="88.5" cy="134" rx="3" ry="2.2" fill="rgb(199,199,199)"/><ellipse cx="62" cy="120" rx="4" ry="2.5" fill="rgb(120,120,120)"/><ellipse cx="57" cy="134" rx="3.5" ry="2" fill="rgb(158,158,158)"/><ellipse cx="50" cy="137" rx="2.5" ry="2" fill="rgb(120,120,120)"/><ellipse cx="40" cy="131" rx="2.5" ry="2" fill="rgb(0,0,0)"/><ellipse cx="45" cy="129" rx="2" ry="2" fill="rgb(0,0,0)"/><ellipse cx="36" cy="137" rx="2" ry="2" fill="rgb(120,120,120)"/><ellipse cx="47" cy="150" rx="3" ry="2" fill="rgb(120,120,120)"/><ellipse cx="62" cy="143" rx="2.5" ry="2" fill="rgb(0,0,0)"/><ellipse cx="67" cy="136" rx="3" ry="2" fill="rgb(120,120,120)"/><ellipse cx="35" cy="143" rx="2" ry="2" fill="rgb(0,0,0)"/><ellipse cx="55" cy="157" rx="2" ry="2" fill="rgb(120,120,120)"/><ellipse cx="26" cy="130" rx="2" ry="2" fill="rgb(120,120,120)"/><ellipse cx="44" cy="156" rx="2" ry="1.5" fill="rgb(0,0,0)"/><ellipse cx="52" cy="130" rx="2" ry="1.5" fill="rgb(0,0,0)"/><ellipse cx="58" cy="140" rx="2" ry="2" fill="rgb(97,97,97)"/></g></g><g filter="url(#b0_8)"><ellipse cx="76" cy="154" rx="3.5" ry="6.5" fill="#7e7e7e" transform="rotate(15 76 154)"/><ellipse cx="73" cy="159" rx="3" ry="3.5" fill="#7e7e7e"/><ellipse cx="14.5" cy="120" rx="2" ry="3.5" fill="#777" transform="rotate(-35 14.5 120)"/><ellipse cx="72.6" cy="110.3" rx="1.6" ry="2.6" fill="#888" transform="rotate(40 72.6 110.3)"/></g><g filter="url(#b1_0)"><ellipse cx="71" cy="121.5" rx="7" ry="2.8" fill="#9018f0" transform="rotate(-8 71 121.5)"/><ellipse cx="83.5" cy="127" rx="6.5" ry="5.5" fill="#d818ec" transform="rotate(20 83.5 127)"/><ellipse cx="88.5" cy="134" rx="3" ry="2" fill="#3018d8" transform="rotate(20 88.5 134)"/><ellipse cx="79" cy="124" rx="3" ry="2" fill="#b018f0"/></g><rect x="10.6" y="106.5" width="85.0" height="62.9" fill="url(#A3s)"/><path d="M13.6,119.8 C13.6,118.4 15.4,117.1 16.5,117.5 C17.6,117.9 18.8,121.0 20.4,122.3 C22.0,123.6 23.2,124.9 26.1,125.2 C29.0,125.5 34.4,124.7 37.6,124.2 C40.8,123.7 43.0,123.3 45.3,122.3 C47.5,121.3 48.9,119.7 51.1,118.4 C53.3,117.1 56.2,115.6 58.7,114.6 C61.2,113.6 64.1,113.0 66.4,112.2 C68.7,111.4 71.7,109.2 72.5,109.5 C73.3,109.8 71.4,112.5 71.2,113.7 C71.0,114.9 70.4,115.7 71.5,116.5 C72.6,117.3 75.9,117.8 77.9,118.4 C79.9,119.0 82.1,119.2 83.7,120.3 C85.3,121.4 86.4,123.3 87.5,125.1 C88.6,126.9 89.6,128.8 90.4,130.9 C91.2,133.0 93.4,136.6 92.6,137.6 C91.8,138.6 87.6,137.4 85.6,137.2 C83.6,137.0 81.5,135.2 80.5,136.2 C79.5,137.2 79.9,141.2 79.9,143.4 C79.9,145.6 80.6,147.2 80.4,149.1 C80.2,151.0 79.7,153.0 78.5,154.9 C77.3,156.8 75.1,159.1 73.1,160.7 C71.1,162.3 69.4,163.6 66.4,164.5 C63.4,165.4 58.1,166.6 54.9,166.4 C51.7,166.2 49.4,164.8 47.2,163.5 C45.0,162.2 43.7,160.4 41.5,158.7 C39.3,156.9 36.0,154.9 33.8,153.0 C31.5,151.1 29.6,148.8 28.0,147.2 C26.4,145.6 25.1,144.6 24.5,143.5 C23.9,142.4 25.1,141.2 24.2,140.5 C23.3,139.8 19.6,140.2 19.4,139.5 C19.2,138.8 22.9,137.5 23.2,136.2 C23.5,134.9 22.4,133.6 21.3,131.9 C20.2,130.2 17.8,128.1 16.5,126.1 C15.2,124.1 13.6,121.2 13.6,119.8Z" fill="none" stroke="#000" stroke-width="3.0" opacity="0.45" filter="url(#b1_2)"/></g>
<path d="M105.0,146.0 C105.8,145.3 108.2,143.2 110.0,142.0 C111.8,140.8 115.0,139.1 116.0,138.5" stroke="#8a8a8a" stroke-width="1.4" fill="none" stroke-linecap="round" stroke-linejoin="round"/>
<path d="M111.0,141.0 C111.8,140.5 114.3,138.9 116.0,138.0 C117.7,137.1 120.2,135.9 121.0,135.5" stroke="#8a8a8a" stroke-width="4.4" fill="none" stroke-linecap="round" stroke-linejoin="round"/>
<g clip-path="url(#A4c)"><g filter="url(#A4f)"><rect x="101.8" y="110.2" width="78.9" height="55.4" fill="rgb(56,56,56)"/><g filter="url(#b3_0)"><ellipse cx="122" cy="140" rx="8" ry="14" fill="rgb(26,26,26)"/><ellipse cx="116" cy="134" rx="4" ry="4" fill="rgb(5,5,5)"/><ellipse cx="130" cy="125" rx="6" ry="5" fill="rgb(31,31,31)"/><ellipse cx="148" cy="136" rx="10" ry="9" fill="rgb(92,92,92)"/><ellipse cx="150" cy="121" rx="9" ry="3" fill="rgb(76,76,76)"/><ellipse cx="167" cy="132" rx="6" ry="12" fill="rgb(18,18,18)"/><ellipse cx="172" cy="121" rx="4" ry="5" fill="rgb(5,5,5)"/><ellipse cx="138" cy="157" rx="16" ry="5" fill="rgb(20,20,20)"/><ellipse cx="158" cy="152" rx="5" ry="6" fill="rgb(51,51,51)"/><ellipse cx="136" cy="140" rx="5" ry="5" fill="rgb(76,76,76)"/><ellipse cx="127" cy="157" rx="6" ry="4" fill="rgb(10,10,10)"/></g><g filter="url(#b1_2)"><ellipse cx="139" cy="124" rx="4.2" ry="3.6" fill="rgb(219,219,219)"/><ellipse cx="139" cy="124" rx="2.6" ry="2.2" fill="rgb(255,255,255)"/><ellipse cx="154" cy="141" rx="5" ry="5.5" fill="rgb(219,219,219)"/><ellipse cx="154.5" cy="141" rx="3.2" ry="3.8" fill="rgb(255,255,255)"/><ellipse cx="147" cy="150" rx="2" ry="2" fill="rgb(242,242,242)"/><ellipse cx="141" cy="133" rx="2.5" ry="2" fill="rgb(158,158,158)"/><ellipse cx="128" cy="146" rx="2" ry="2" fill="rgb(158,158,158)"/><ellipse cx="148" cy="130" rx="4" ry="3" fill="rgb(120,120,120)"/><ellipse cx="131" cy="134" rx="3" ry="2" fill="rgb(120,120,120)"/><ellipse cx="125" cy="153" rx="3" ry="2" fill="rgb(120,120,120)"/><ellipse cx="145" cy="142" rx="2" ry="2" fill="rgb(0,0,0)"/><ellipse cx="132" cy="139" rx="2.5" ry="2.5" fill="rgb(0,0,0)"/><ellipse cx="158" cy="127" rx="2" ry="2" fill="rgb(13,13,13)"/><ellipse cx="160" cy="145" rx="2.5" ry="2" fill="rgb(115,115,115)"/><ellipse cx="120" cy="148" rx="2" ry="2" fill="rgb(255,255,255)"/><ellipse cx="143" cy="156" rx="2" ry="1.5" fill="rgb(128,128,128)"/></g></g><g filter="url(#b1_0)"><ellipse cx="116.5" cy="122.5" rx="4.5" ry="6" fill="#d020e8" transform="rotate(10 116.5 122.5)"/><ellipse cx="118" cy="127" rx="2.5" ry="2.5" fill="#9020f0"/></g><g filter="url(#b0_8)"><ellipse cx="173.5" cy="120" rx="2.5" ry="4" fill="#e82010" transform="rotate(20 173.5 120)"/><ellipse cx="175.5" cy="131.5" rx="2.5" ry="1.5" fill="#e82010"/></g><g filter="url(#b0_6)"><ellipse cx="116.8" cy="113.6" rx="2.4" ry="1.6" fill="#888" transform="rotate(20 116.8 113.6)"/><ellipse cx="177" cy="117.5" rx="1.6" ry="3" fill="#666" transform="rotate(-10 177 117.5)"/></g><rect x="101.8" y="110.2" width="78.9" height="55.4" fill="url(#A4s)"/><path d="M113.4,117.5 C114.1,115.7 114.1,113.7 115.4,113.2 C116.7,112.7 118.9,114.0 121.1,114.6 C123.3,115.1 125.9,115.7 128.8,116.5 C131.7,117.3 135.2,118.6 138.4,119.4 C141.6,120.2 144.8,120.8 148.0,121.3 C151.2,121.8 154.7,122.0 157.6,122.3 C160.5,122.5 163.1,123.3 165.3,122.8 C167.5,122.3 169.3,120.6 171.0,119.4 C172.7,118.2 174.4,115.6 175.5,115.6 C176.6,115.6 177.4,118.2 177.5,119.5 C177.6,120.8 176.6,121.9 176.0,123.2 C175.4,124.5 174.3,125.6 173.9,127.1 C173.5,128.5 172.9,130.6 173.5,131.9 C174.1,133.2 177.9,134.2 177.7,134.8 C177.4,135.4 173.8,134.4 172.0,135.7 C170.2,137.0 168.3,140.6 167.2,142.4 C166.1,144.2 166.0,144.7 165.3,146.3 C164.7,147.9 164.6,150.1 163.3,152.0 C162.0,153.9 160.2,156.2 157.6,157.8 C155.0,159.4 151.8,160.8 148.0,161.6 C144.2,162.4 138.7,162.9 134.5,162.6 C130.3,162.3 126.0,160.8 123.0,159.7 C120.0,158.6 117.9,157.7 116.3,155.9 C114.7,154.1 113.7,151.2 113.4,149.1 C113.1,147.0 114.7,145.3 114.4,143.4 C114.1,141.5 113.1,138.8 111.5,137.5 C109.9,136.2 105.1,136.2 104.8,135.3 C104.5,134.4 108.5,133.8 109.6,131.9 C110.7,130.1 110.9,126.6 111.5,124.2 C112.1,121.8 112.8,119.3 113.4,117.5Z" fill="none" stroke="#000" stroke-width="3.0" opacity="0.5" filter="url(#b1_2)"/></g>
<path d="M163.0,148.5 C164.2,148.5 167.9,148.6 170.0,148.6 C172.1,148.6 174.6,148.6 175.5,148.6" stroke="#8a8a8a" stroke-width="4.4" fill="none" stroke-linecap="round" stroke-linejoin="round"/>
<path d="M258.5,20.5 C259.0,21.4 260.4,24.1 261.5,26.0 C262.6,27.9 264.4,31.0 265.0,32.0" stroke="#c4bca0" stroke-width="3.5" fill="none" stroke-linecap="round" stroke-linejoin="round"/>
<path d="M258.5,20.5 C259.0,21.4 260.4,24.1 261.5,26.0 C262.6,27.9 264.4,31.0 265.0,32.0" stroke="#e6dec4" stroke-width="2.6" fill="none" stroke-linecap="round" stroke-linejoin="round"/>
<path d="M262.5,19.5 C262.8,20.4 263.9,23.1 264.5,25.0 C265.1,26.9 265.8,30.0 266.0,31.0" stroke="#c4bca0" stroke-width="3.3" fill="none" stroke-linecap="round" stroke-linejoin="round"/>
<path d="M262.5,19.5 C262.8,20.4 263.9,23.1 264.5,25.0 C265.1,26.9 265.8,30.0 266.0,31.0" stroke="#e6dec4" stroke-width="2.4" fill="none" stroke-linecap="round" stroke-linejoin="round"/>
<path d="M270.5,24.5 C270.7,25.6 271.2,28.8 271.5,31.0 C271.8,33.2 272.3,36.8 272.5,38.0" stroke="#c4bca0" stroke-width="3.9" fill="none" stroke-linecap="round" stroke-linejoin="round"/>
<path d="M270.5,24.5 C270.7,25.6 271.2,28.8 271.5,31.0 C271.8,33.2 272.3,36.8 272.5,38.0" stroke="#e6dec4" stroke-width="3.0" fill="none" stroke-linecap="round" stroke-linejoin="round"/>
<path d="M266.0,30.0 C266.5,30.8 268.0,33.5 269.0,35.0 C270.0,36.5 271.5,38.3 272.0,39.0" stroke="#c4bca0" stroke-width="3.9" fill="none" stroke-linecap="round" stroke-linejoin="round"/>
<path d="M266.0,30.0 C266.5,30.8 268.0,33.5 269.0,35.0 C270.0,36.5 271.5,38.3 272.0,39.0" stroke="#e6dec4" stroke-width="3.0" fill="none" stroke-linecap="round" stroke-linejoin="round"/>
<path d="M261.0,50.0 C261.8,50.2 264.0,50.8 266.0,51.0 C268.0,51.2 271.8,51.4 273.0,51.5" stroke="#9c9c9c" stroke-width="3.6" fill="none" stroke-linecap="round" stroke-linejoin="round"/>
<path d="M261.5,56.0 C262.2,55.7 264.1,54.5 266.0,54.0 C267.9,53.5 271.8,53.2 273.0,53.0" stroke="#9c9c9c" stroke-width="3.4" fill="none" stroke-linecap="round" stroke-linejoin="round"/>
<path d="M268.0,43.0 C268.7,43.3 270.7,44.5 272.0,45.0 C273.3,45.5 275.3,45.8 276.0,46.0" stroke="#f0d000" stroke-width="4.5" fill="none" stroke-linecap="round" stroke-linejoin="round"/>
<path d="M313.0,24.0 C313.7,23.6 315.7,22.1 317.0,21.5 C318.3,20.9 320.3,20.7 321.0,20.5" stroke="#30c8c0" stroke-width="3.6" fill="none" stroke-linecap="round" stroke-linejoin="round"/>
<path d="M319.0,21.0 C319.5,20.9 320.9,20.5 322.0,20.5 C323.1,20.5 324.9,20.9 325.5,21.0" stroke="#9c9c9c" stroke-width="2.6" fill="none" stroke-linecap="round" stroke-linejoin="round"/>
<g clip-path="url(#B1c)"><g filter="url(#B1f)"><rect x="269.3" y="16.8" width="69.3" height="60.7" fill="rgb(38,38,38)"/><rect x="269.3" y="16.8" width="69.3" height="60.7" fill="url(#B1g)"/><g filter="url(#b3_0)"><ellipse cx="286" cy="51" rx="9" ry="10" fill="rgb(0,0,0)"/><ellipse cx="299" cy="31" rx="6" ry="5" fill="rgb(76,76,76)"/><ellipse cx="307" cy="29" rx="5" ry="4" fill="rgb(97,97,97)"/><ellipse cx="308" cy="68" rx="6" ry="5" fill="rgb(107,107,107)"/><ellipse cx="296" cy="66" rx="6" ry="3" fill="rgb(31,31,31)"/><ellipse cx="277" cy="40" rx="4" ry="4" fill="rgb(15,15,15)"/></g><g filter="url(#b1_5)"><ellipse cx="326" cy="42" rx="9" ry="6" fill="rgb(168,168,168)"/><ellipse cx="332" cy="46" rx="4" ry="3" fill="rgb(163,163,163)"/><ellipse cx="312" cy="30" rx="5.5" ry="1.4" fill="rgb(217,217,217)"/><ellipse cx="320.5" cy="57" rx="1.8" ry="6" fill="rgb(224,224,224)"/><ellipse cx="316.5" cy="22" rx="3" ry="3" fill="rgb(168,168,168)"/><ellipse cx="289" cy="52" rx="6" ry="6" fill="rgb(0,0,0)"/></g></g><path d="M274.2,36.1 C275.6,34.8 279.5,34.7 281.9,34.2 C284.3,33.7 287.0,34.0 288.6,33.2 C290.2,32.4 290.4,30.5 291.5,29.4 C292.6,28.3 293.7,27.3 295.3,26.5 C296.9,25.7 299.2,25.1 301.1,24.6 C303.0,24.1 304.9,24.1 306.8,23.6 C308.7,23.1 311.0,22.3 312.6,21.7 C314.2,21.1 315.4,19.6 316.4,19.8 C317.4,20.0 318.3,21.2 318.6,23.0 C318.9,24.8 317.7,28.7 318.3,30.4 C318.9,32.1 320.6,32.2 322.2,33.2 C323.8,34.2 326.3,34.8 327.9,36.1 C329.5,37.4 330.7,39.1 331.8,40.9 C332.9,42.7 334.1,45.3 334.7,46.7 C335.3,48.1 336.6,49.2 335.6,49.5 C334.6,49.8 330.8,49.1 328.9,48.6 C327.0,48.1 325.2,46.2 324.1,46.7 C323.0,47.2 322.7,49.3 322.2,51.5 C321.7,53.7 321.8,57.7 321.2,60.1 C320.6,62.5 319.6,64.1 318.3,65.9 C317.0,67.7 314.9,69.3 313.5,70.7 C312.1,72.1 310.8,74.2 309.7,74.5 C308.6,74.8 308.1,73.2 306.8,72.6 C305.5,72.0 304.2,71.5 302.0,70.7 C299.8,69.9 296.4,68.9 293.4,67.8 C290.4,66.7 286.5,65.2 283.8,63.9 C281.1,62.6 278.7,61.5 277.1,60.1 C275.5,58.7 275.0,57.1 274.2,55.3 C273.4,53.5 272.5,51.7 272.3,49.5 C272.1,47.3 272.9,44.1 273.2,41.9 C273.5,39.7 272.8,37.4 274.2,36.1Z" fill="none" stroke="#000" stroke-width="3.0" opacity="0.3" filter="url(#b1_2)"/></g>
<path d="M301,36 L319,57" stroke="#444" stroke-width="0.4" opacity="0.5"/>
<text x="281.2" y="53.6" font-size="9.4" font-weight="bold" fill="#fff" text-anchor="middle">A</text>
<text x="287.5" y="52.6" font-size="6" font-weight="bold" fill="#fff" opacity="0.85">*</text>
<text x="320.3" y="45.7" font-size="9.2" font-weight="bold" fill="#fff" text-anchor="middle">B</text>
<text x="310.7" y="66" font-size="9.4" font-weight="bold" fill="#111" text-anchor="middle">C</text>
<path d="M352.0,19.5 C352.7,19.8 354.5,20.5 356.0,21.0 C357.5,21.5 360.2,22.2 361.0,22.5" stroke="#9c9c9c" stroke-width="3.4" fill="none" stroke-linecap="round" stroke-linejoin="round"/>
<path d="M356.0,17.5 C356.3,17.9 357.5,18.9 358.0,20.0 C358.5,21.1 358.8,23.3 359.0,24.0" stroke="#9c9c9c" stroke-width="2.6" fill="none" stroke-linecap="round" stroke-linejoin="round"/>
<path d="M341.0,45.0 C342.2,45.2 345.2,45.7 348.0,46.0 C350.8,46.3 356.3,46.8 358.0,47.0" stroke="#9c9c9c" stroke-width="4.4" fill="none" stroke-linecap="round" stroke-linejoin="round"/>
<path d="M341.5,52.0 C342.6,51.8 345.2,51.0 348.0,50.5 C350.8,50.0 356.3,49.2 358.0,49.0" stroke="#9c9c9c" stroke-width="4.2" fill="none" stroke-linecap="round" stroke-linejoin="round"/>
<path d="M345.0,58.5 C345.8,57.9 347.8,56.2 350.0,55.0 C352.2,53.8 356.7,51.7 358.0,51.0" stroke="#9c9c9c" stroke-width="4.0" fill="none" stroke-linecap="round" stroke-linejoin="round"/>
<path d="M350.0,40.0 C350.8,40.3 353.2,41.3 355.0,42.0 C356.8,42.7 360.0,43.7 361.0,44.0" stroke="#9c9c9c" stroke-width="4.0" fill="none" stroke-linecap="round" stroke-linejoin="round"/>
<path d="M405.0,58.0 C406.2,58.2 409.8,59.0 412.0,59.0 C414.2,59.0 417.4,58.2 418.5,58.0" stroke="#9c9c9c" stroke-width="3.8" fill="none" stroke-linecap="round" stroke-linejoin="round"/>
<path d="M408.0,62.0 C408.8,62.2 411.5,63.0 413.0,63.5 C414.5,64.0 416.3,64.8 417.0,65.0" stroke="#9c9c9c" stroke-width="3.4" fill="none" stroke-linecap="round" stroke-linejoin="round"/>
<path d="M408.0,38.0 C409.3,38.5 413.3,40.1 416.0,41.0 C418.7,41.9 422.7,43.1 424.0,43.5" stroke="#f0d000" stroke-width="3.2" fill="none" stroke-linecap="round" stroke-linejoin="round"/>
<path d="M413.0,30.0 C413.3,29.2 414.2,26.7 415.0,25.0 C415.8,23.3 417.5,20.8 418.0,20.0" stroke="#f0d800" stroke-width="4.0" fill="none" stroke-linecap="round" stroke-linejoin="round"/>
<path d="M415.0,20.0 C415.8,19.8 418.3,18.6 420.0,18.5 C421.7,18.4 424.2,19.3 425.0,19.5" stroke="#c8c0a4" stroke-width="4.6" fill="none" stroke-linecap="round" stroke-linejoin="round"/>
<path d="M417.0,25.0 C417.8,25.0 420.2,24.8 422.0,25.0 C423.8,25.2 426.6,26.2 427.5,26.5" stroke="#c8c0a4" stroke-width="4.4" fill="none" stroke-linecap="round" stroke-linejoin="round"/>
<path d="M420.0,21.0 C420.7,21.2 422.8,21.7 424.0,22.0 C425.2,22.3 426.5,22.8 427.0,23.0" stroke="#c8c0a4" stroke-width="3.8" fill="none" stroke-linecap="round" stroke-linejoin="round"/>
<path d="M415.0,20.0 C415.8,19.8 418.3,18.6 420.0,18.5 C421.7,18.4 424.2,19.3 425.0,19.5" stroke="#e6dec4" stroke-width="3.6" fill="none" stroke-linecap="round" stroke-linejoin="round"/>
<path d="M417.0,25.0 C417.8,25.0 420.2,24.8 422.0,25.0 C423.8,25.2 426.6,26.2 427.5,26.5" stroke="#e6dec4" stroke-width="3.4" fill="none" stroke-linecap="round" stroke-linejoin="round"/>
<path d="M420.0,21.0 C420.7,21.2 422.8,21.7 424.0,22.0 C425.2,22.3 426.5,22.8 427.0,23.0" stroke="#e6dec4" stroke-width="2.8" fill="none" stroke-linecap="round" stroke-linejoin="round"/>
<g clip-path="url(#B2c)"><g filter="url(#B2f)"><rect x="347.6" y="18.5" width="76.0" height="59.0" fill="rgb(158,158,158)"/><rect x="347.6" y="18.5" width="76.0" height="59.0" fill="url(#B2g)"/><g filter="url(#b3_0)"><ellipse cx="361" cy="62" rx="6" ry="8" fill="rgb(224,224,224)"/><ellipse cx="384" cy="36" rx="7" ry="6" fill="rgb(163,163,163)"/><ellipse cx="392" cy="68" rx="9" ry="5" fill="rgb(92,92,92)"/><ellipse cx="402" cy="64" rx="6" ry="4" fill="rgb(76,76,76)"/><ellipse cx="411" cy="32" rx="4" ry="3" fill="rgb(76,76,76)"/><ellipse cx="378" cy="72" rx="5" ry="3" fill="rgb(122,122,122)"/></g><g filter="url(#b1_5)"><ellipse cx="360" cy="35" rx="4" ry="5" fill="rgb(219,219,219)"/><ellipse cx="358" cy="60" rx="4" ry="8" fill="rgb(230,230,230)"/><ellipse cx="361.5" cy="48.5" rx="2.5" ry="2.5" fill="rgb(250,250,250)"/><ellipse cx="368" cy="47" rx="3" ry="2" fill="rgb(194,194,194)"/><ellipse cx="357" cy="32" rx="3" ry="3" fill="rgb(178,178,178)"/><ellipse cx="409" cy="46" rx="4" ry="6" fill="rgb(0,0,0)"/></g></g><path d="M351.5,30.4 C352.6,28.8 355.7,27.6 357.3,26.5 C358.9,25.4 359.5,24.1 361.1,23.6 C362.7,23.1 364.7,23.1 366.9,23.6 C369.1,24.1 371.9,25.5 374.5,26.5 C377.1,27.5 379.6,28.4 382.2,29.4 C384.8,30.4 387.3,31.5 389.9,32.3 C392.5,33.1 395.0,34.1 397.6,34.2 C400.2,34.4 403.1,33.7 405.3,33.2 C407.5,32.7 409.6,32.4 411.0,31.3 C412.4,30.2 413.2,28.1 413.9,26.5 C414.5,24.9 413.8,20.5 414.9,21.5 C416.0,22.5 420.0,29.7 420.6,32.3 C421.2,34.9 419.3,35.7 418.7,37.1 C418.1,38.5 417.1,39.3 416.8,40.9 C416.5,42.5 417.5,44.9 416.8,46.7 C416.1,48.5 413.9,50.1 412.9,51.5 C411.9,52.9 412.0,53.9 411.0,55.3 C410.0,56.7 407.9,58.7 407.0,60.0 C406.1,61.3 406.6,61.9 405.3,63.0 C404.1,64.1 401.8,65.5 399.5,66.8 C397.2,68.1 394.7,69.6 391.8,70.7 C388.9,71.8 385.4,72.9 382.2,73.5 C379.0,74.1 375.5,74.5 372.6,74.5 C369.7,74.5 367.2,74.1 365.0,73.5 C362.8,72.9 360.8,72.1 359.2,70.7 C357.6,69.3 356.2,67.2 355.4,64.9 C354.6,62.7 354.8,59.7 354.4,57.2 C354.0,54.7 353.5,52.5 353.0,50.0 C352.5,47.5 351.9,44.2 351.5,41.9 C351.1,39.6 350.6,38.0 350.6,36.1 C350.6,34.2 350.4,32.0 351.5,30.4Z" fill="none" stroke="#000" stroke-width="3.0" opacity="0.3" filter="url(#b1_2)"/></g>
<text x="385" y="43.5" font-size="9.4" font-weight="bold" fill="#111" text-anchor="middle">D</text>
<text x="385.7" y="64.3" font-size="9.4" font-weight="bold" fill="#111" text-anchor="middle">E</text>
<path d="M266.0,151.5 C266.8,151.6 269.2,151.7 271.0,151.8 C272.8,151.9 276.0,152.0 277.0,152.0" stroke="#30d8a0" stroke-width="3.6" fill="none" stroke-linecap="round" stroke-linejoin="round"/>
<g clip-path="url(#B3c)"><g filter="url(#B3f)"><rect x="259.4" y="109.7" width="84.8" height="60.8" fill="rgb(107,107,107)"/><g filter="url(#b2_5)"><ellipse cx="294" cy="148" rx="26" ry="18" fill="rgb(82,82,82)"/><ellipse cx="291" cy="151" rx="18" ry="13" fill="rgb(56,56,56)"/><ellipse cx="289" cy="152" rx="13" ry="10" fill="rgb(36,36,36)"/><ellipse cx="288" cy="152" rx="8" ry="6" fill="rgb(26,26,26)"/><ellipse cx="282" cy="156" rx="6" ry="4" fill="rgb(38,38,38)"/><ellipse cx="302" cy="162" rx="8" ry="4" fill="rgb(61,61,61)"/><ellipse cx="318" cy="150" rx="7" ry="11" fill="rgb(87,87,87)"/><ellipse cx="272" cy="132" rx="9" ry="6" fill="rgb(128,128,128)"/><ellipse cx="265" cy="128" rx="4" ry="3" fill="rgb(143,143,143)"/><ellipse cx="324" cy="161" rx="5" ry="5" fill="rgb(107,107,107)"/><ellipse cx="308" cy="119" rx="12" ry="5" fill="rgb(140,140,140)"/><ellipse cx="300" cy="124" rx="6" ry="3" fill="rgb(128,128,128)"/></g><g filter="url(#b1_5)"><ellipse cx="330" cy="131" rx="10" ry="6" fill="rgb(171,171,171)"/><ellipse cx="338" cy="136" rx="4" ry="2.5" fill="rgb(189,189,189)"/><ellipse cx="319" cy="115" rx="2.5" ry="3" fill="rgb(199,199,199)"/><ellipse cx="292" cy="151" rx="3" ry="2" fill="rgb(5,5,5)"/></g></g><g filter="url(#b0_6)"><ellipse cx="327.5" cy="158" rx="2.2" ry="3.2" fill="#8e7e86"/><ellipse cx="263" cy="127.5" rx="1.6" ry="2" fill="#8a7a8a"/></g><rect x="259.4" y="109.7" width="84.8" height="60.8" fill="url(#B3s)"/><path d="M262.4,126.8 C262.8,126.1 263.8,125.1 265.1,125.6 C266.4,126.0 268.6,128.4 270.4,129.5 C272.2,130.6 273.6,131.7 275.7,132.1 C277.8,132.5 280.4,132.5 282.8,132.1 C285.2,131.7 287.5,130.8 289.9,129.5 C292.2,128.2 294.5,125.7 296.9,124.2 C299.2,122.7 301.6,121.6 304.0,120.6 C306.4,119.6 309.0,118.9 311.1,118.0 C313.2,117.1 314.9,116.2 316.4,115.3 C317.9,114.4 319.2,112.7 319.9,112.7 C320.6,112.7 320.9,114.1 320.8,115.3 C320.7,116.5 319.0,118.5 319.1,119.7 C319.2,120.9 320.4,121.8 321.7,122.4 C323.0,123.0 325.2,122.4 327.0,123.3 C328.8,124.2 330.5,125.9 332.3,127.7 C334.1,129.5 336.1,132.1 337.6,133.9 C339.1,135.7 341.5,137.4 341.2,138.3 C340.9,139.2 337.8,139.2 335.9,139.2 C334.0,139.2 330.9,137.7 329.7,138.3 C328.5,138.9 328.8,140.9 328.8,142.7 C328.8,144.5 329.7,146.8 329.7,148.9 C329.7,151.0 329.4,153.0 328.8,155.1 C328.2,157.2 327.6,159.7 326.1,161.3 C324.6,162.9 322.2,163.9 320.0,164.9 C317.8,165.9 315.6,167.2 312.9,167.5 C310.2,167.8 306.7,167.2 304.0,166.6 C301.3,166.0 299.5,164.9 296.9,164.0 C294.2,163.1 290.8,162.3 288.1,161.3 C285.5,160.3 282.8,159.0 281.0,157.8 C279.2,156.6 278.4,155.8 277.5,154.2 C276.6,152.6 277.0,149.3 275.7,148.0 C274.4,146.7 269.8,147.2 269.5,146.3 C269.2,145.4 273.8,144.3 273.9,142.7 C274.0,141.1 271.9,138.3 270.4,136.5 C268.9,134.7 266.4,133.3 265.1,132.1 C263.8,130.9 262.8,130.4 262.4,129.5 C261.9,128.6 261.9,127.5 262.4,126.8Z" fill="none" stroke="#000" stroke-width="3.5" opacity="0.5" filter="url(#b1_2)"/><g filter="url(#b2_5)" opacity="0.35"><ellipse cx="300" cy="128" rx="12" ry="4" fill="#fff"/><ellipse cx="287" cy="154" rx="5" ry="4" fill="#fff"/></g></g>
<text x="285.9" y="152.1" font-size="9.6" font-weight="bold" fill="#fff" text-anchor="middle">A</text>
<text x="292.5" y="152.6" font-size="7.5" font-weight="bold" fill="#fff" opacity="0.9">*</text>
<text x="325.6" y="138.6" font-size="9.2" font-weight="bold" fill="#fff" text-anchor="middle">B</text>
<text x="315.9" y="164.5" font-size="9.6" font-weight="bold" fill="#111" text-anchor="middle">C</text>
<path d="M348,149.5 C350.5,145 354,140.5 358.5,137.8 C361.5,136.3 364,136 367,136.5 L366,145 C362,145 359.5,145.5 357,147 C354,148.5 351.5,150.5 349.8,151.5Z" fill="#c42ce8"/>
<path d="M350,147.5 C353,143.5 356,141 360,139" stroke="#e050f0" stroke-width="1.4" fill="none" opacity="0.8"/>
<path d="M348.6,149.8 L350.2,148.6" stroke="#e8a8b8" stroke-width="2.4" fill="none" stroke-linecap="round" stroke-linejoin="round"/>
<path d="M351.5,126.5 C352.2,126.1 354.2,124.6 356.0,124.0 C357.8,123.4 361.0,123.2 362.0,123.0" stroke="#30c8c8" stroke-width="3.2" fill="none" stroke-linecap="round" stroke-linejoin="round"/>
<g clip-path="url(#B4c)"><g filter="url(#B4f)"><rect x="352.5" y="110.9" width="75.0" height="60.5" fill="rgb(158,158,158)"/><rect x="352.5" y="110.9" width="75.0" height="60.5" fill="url(#B4g)"/><g filter="url(#b3_0)"><ellipse cx="363" cy="157" rx="8" ry="11" fill="rgb(224,224,224)"/><ellipse cx="362" cy="128" rx="7" ry="8" fill="rgb(178,178,178)"/><ellipse cx="380" cy="161" rx="7" ry="6" fill="rgb(178,178,178)"/><ellipse cx="396" cy="158" rx="7" ry="6" fill="rgb(143,143,143)"/><ellipse cx="370" cy="166" rx="6" ry="4" fill="rgb(219,219,219)"/><ellipse cx="406" cy="150" rx="5" ry="5" fill="rgb(120,120,120)"/><ellipse cx="412" cy="142" rx="4" ry="6" fill="rgb(56,56,56)"/></g><g filter="url(#b1_5)"><ellipse cx="360" cy="119" rx="3" ry="5" fill="rgb(199,199,199)"/><ellipse cx="418" cy="121" rx="3" ry="3" fill="rgb(89,89,89)"/><ellipse cx="364" cy="146" rx="4" ry="3" fill="rgb(230,230,230)"/><ellipse cx="362" cy="140.5" rx="6" ry="3.2" fill="rgb(255,255,255)"/><ellipse cx="358" cy="141" rx="3" ry="3" fill="rgb(247,247,247)"/></g></g><rect x="352.5" y="110.9" width="75.0" height="60.5" fill="url(#B4s)"/><path d="M358.2,122.4 C358.9,120.2 359.0,115.8 359.9,114.4 C360.8,113.0 362.3,113.5 363.5,113.9 C364.7,114.4 365.5,116.3 367.0,117.1 C368.5,117.9 370.2,118.2 372.3,118.8 C374.4,119.4 377.0,119.8 379.4,120.6 C381.8,121.3 383.9,122.4 386.5,123.3 C389.1,124.2 392.4,125.3 395.3,125.9 C398.2,126.5 401.5,127.0 404.2,126.8 C406.9,126.6 409.2,125.7 411.3,125.0 C413.4,124.3 415.1,123.4 416.6,122.4 C418.1,121.4 419.2,119.7 420.1,118.8 C421.0,117.9 421.2,117.1 421.9,117.1 C422.6,117.1 424.2,117.8 424.5,118.8 C424.8,119.8 424.2,121.8 423.6,123.3 C423.0,124.8 421.7,126.1 421.0,127.7 C420.3,129.3 419.6,131.5 419.2,133.0 C418.8,134.5 417.4,135.5 418.3,136.5 C419.2,137.5 424.5,138.6 424.5,139.2 C424.5,139.8 419.9,139.4 418.3,140.1 C416.7,140.8 415.7,142.3 414.8,143.6 C413.9,144.9 413.6,146.1 413.0,148.0 C412.4,149.9 412.5,153.3 411.3,155.1 C410.1,156.9 408.3,157.4 405.9,158.7 C403.5,160.0 400.1,161.8 397.1,163.1 C394.2,164.4 391.4,165.7 388.2,166.6 C384.9,167.5 380.8,168.2 377.6,168.4 C374.4,168.6 371.5,168.2 368.8,167.5 C366.1,166.8 363.5,165.5 361.7,164.0 C359.9,162.5 359.1,160.8 358.2,158.7 C357.3,156.6 356.6,153.7 356.4,151.6 C356.2,149.5 356.6,147.9 356.8,146.0 C357.0,144.1 357.6,142.2 357.5,140.0 C357.4,137.8 356.3,135.1 356.0,133.0 C355.7,130.9 355.1,129.5 355.5,127.7 C355.9,125.9 357.5,124.6 358.2,122.4Z" fill="none" stroke="#000" stroke-width="3.5" opacity="0.5" filter="url(#b1_2)"/><g filter="url(#b2_5)" opacity="0.3"><ellipse cx="380" cy="128" rx="12" ry="4" fill="#fff"/></g></g>
<path d="M410.0,151.0 C411.0,151.1 414.2,151.5 416.0,151.5 C417.8,151.5 420.2,151.2 421.0,151.2" stroke="#58e030" stroke-width="4.6" fill="none" stroke-linecap="round" stroke-linejoin="round"/>
<circle cx="422.3" cy="117.8" r="1.6" fill="#e0a0b0"/>
<text x="389" y="134.6" font-size="9.6" font-weight="bold" fill="#111" text-anchor="middle">D</text>
<text x="389.6" y="159.6" font-size="9.6" font-weight="bold" fill="#111" text-anchor="middle">E</text>
<g clip-path="url(#Cc)"><path d="M510.9,10.6 C511.5,9.5 512.1,8.2 513.3,7.5 C514.5,6.8 516.2,6.5 518.0,6.6 C519.8,6.7 521.7,7.2 523.9,8.3 C526.1,9.4 528.2,11.2 531.0,13.0 C533.8,14.8 537.3,17.6 540.4,18.9 C543.5,20.2 546.7,21.0 549.8,20.8 C552.9,20.6 556.1,18.8 559.2,17.7 C562.4,16.6 565.6,15.2 568.7,14.2 C571.8,13.2 574.8,12.4 578.0,11.8 C581.2,11.2 584.8,10.7 588.0,10.5 C591.2,10.3 594.5,10.4 597.0,10.5 C599.5,10.6 601.4,11.3 603.0,11.0 C604.6,10.7 605.5,10.1 606.5,8.8 C607.5,7.6 607.9,4.8 609.0,3.5 C610.1,2.2 611.5,1.4 613.0,1.2 C614.5,0.9 616.8,1.2 618.0,2.0 C619.2,2.8 619.6,4.3 620.0,6.0 C620.4,7.7 620.5,10.3 620.6,12.0 C620.7,13.7 620.9,15.0 620.6,16.2 C620.3,17.4 619.5,18.0 619.0,19.0 C618.5,20.0 618.1,20.7 617.6,22.0 C617.1,23.3 616.6,25.8 616.0,27.0 C615.4,28.2 614.1,28.3 614.0,29.5 C613.9,30.7 614.9,32.5 615.4,34.0 C615.9,35.5 616.8,37.0 617.0,38.5 C617.2,40.0 617.9,41.7 616.9,42.8 C615.9,43.9 612.3,43.5 611.0,45.0 C609.7,46.5 609.8,49.5 609.0,52.0 C608.2,54.5 607.3,57.5 606.0,60.0 C604.7,62.5 603.0,64.9 601.0,67.0 C599.0,69.1 596.7,70.9 594.0,72.5 C591.3,74.1 587.2,76.2 585.0,76.7 C582.8,77.2 582.8,76.3 580.5,75.5 C578.2,74.7 574.1,73.3 571.0,71.9 C567.9,70.5 564.1,68.8 561.6,67.2 C559.1,65.6 557.7,64.3 555.7,62.5 C553.7,60.7 552.0,58.4 549.8,56.6 C547.6,54.8 545.1,53.5 542.7,51.9 C540.4,50.3 538.1,49.2 535.7,47.2 C533.4,45.2 531.0,42.3 528.6,40.1 C526.2,37.9 523.5,36.2 521.5,34.2 C519.5,32.2 518.4,30.5 516.8,28.3 C515.2,26.1 513.2,23.6 512.0,21.2 C510.8,18.8 509.9,16.0 509.7,14.2 C509.5,12.4 510.3,11.7 510.9,10.6Z" fill="url(#cg)"/><path d="M510.9,10.6 C511.5,9.5 512.1,8.2 513.3,7.5 C514.5,6.8 516.2,6.5 518.0,6.6 C519.8,6.7 521.7,7.2 523.9,8.3 C526.1,9.4 528.2,11.2 531.0,13.0 C533.8,14.8 537.3,17.6 540.4,18.9 C543.5,20.2 546.7,21.0 549.8,20.8 C552.9,20.6 556.1,18.8 559.2,17.7 C562.4,16.6 565.6,15.2 568.7,14.2 C571.8,13.2 574.8,12.4 578.0,11.8 C581.2,11.2 584.8,10.7 588.0,10.5 C591.2,10.3 594.5,10.4 597.0,10.5 C599.5,10.6 601.4,11.3 603.0,11.0 C604.6,10.7 605.5,10.1 606.5,8.8 C607.5,7.6 607.9,4.8 609.0,3.5 C610.1,2.2 611.5,1.4 613.0,1.2 C614.5,0.9 616.8,1.2 618.0,2.0 C619.2,2.8 619.6,4.3 620.0,6.0 C620.4,7.7 620.5,10.3 620.6,12.0 C620.7,13.7 620.9,15.0 620.6,16.2 C620.3,17.4 619.5,18.0 619.0,19.0 C618.5,20.0 618.1,20.7 617.6,22.0 C617.1,23.3 616.6,25.8 616.0,27.0 C615.4,28.2 614.1,28.3 614.0,29.5 C613.9,30.7 614.9,32.5 615.4,34.0 C615.9,35.5 616.8,37.0 617.0,38.5 C617.2,40.0 617.9,41.7 616.9,42.8 C615.9,43.9 612.3,43.5 611.0,45.0 C609.7,46.5 609.8,49.5 609.0,52.0 C608.2,54.5 607.3,57.5 606.0,60.0 C604.7,62.5 603.0,64.9 601.0,67.0 C599.0,69.1 596.7,70.9 594.0,72.5 C591.3,74.1 587.2,76.2 585.0,76.7 C582.8,77.2 582.8,76.3 580.5,75.5 C578.2,74.7 574.1,73.3 571.0,71.9 C567.9,70.5 564.1,68.8 561.6,67.2 C559.1,65.6 557.7,64.3 555.7,62.5 C553.7,60.7 552.0,58.4 549.8,56.6 C547.6,54.8 545.1,53.5 542.7,51.9 C540.4,50.3 538.1,49.2 535.7,47.2 C533.4,45.2 531.0,42.3 528.6,40.1 C526.2,37.9 523.5,36.2 521.5,34.2 C519.5,32.2 518.4,30.5 516.8,28.3 C515.2,26.1 513.2,23.6 512.0,21.2 C510.8,18.8 509.9,16.0 509.7,14.2 C509.5,12.4 510.3,11.7 510.9,10.6Z" fill="none" stroke="#000" stroke-width="2.4" opacity="0.2" filter="url(#b1_2)"/><g filter="url(#b1_8)" opacity="0.6"><path d="M513,24 C519,33 528,42 540,50 C550,57 562,67 578,75" stroke="#8a8a8a" stroke-width="5" fill="none"/><path d="M549,22 C553,30 554,38 552,46" stroke="#b0b0b0" stroke-width="2.2" fill="none"/><ellipse cx="600" cy="66" rx="8" ry="4" fill="#bbb"/><path d="M596,16 C601,13 606,13 612,15" stroke="#777" stroke-width="2.4" fill="none"/><path d="M530,30 C534,36 540,42 546,46" stroke="#bbb" stroke-width="2" fill="none"/><path d="M565,60 C572,64 580,66 590,66" stroke="#c4c4c4" stroke-width="2" fill="none"/><ellipse cx="590" cy="44" rx="7" ry="2" fill="#d0d0d0"/></g><path d="M598,18 C600,24 605,28 612,29 C616,29 618,24 616,20" stroke="#777" stroke-width="0.6" fill="none" opacity="0.8"/><path d="M604,10 C607,14 612,16 618,15" stroke="#888" stroke-width="0.5" fill="none" opacity="0.8"/><path d="M549,21 C552,28 554,36 553,44" stroke="#999" stroke-width="0.4" fill="none" opacity="0.6"/></g>
<path d="M510.9,10.6 C511.5,9.5 512.1,8.2 513.3,7.5 C514.5,6.8 516.2,6.5 518.0,6.6 C519.8,6.7 521.7,7.2 523.9,8.3 C526.1,9.4 528.2,11.2 531.0,13.0 C533.8,14.8 537.3,17.6 540.4,18.9 C543.5,20.2 546.7,21.0 549.8,20.8 C552.9,20.6 556.1,18.8 559.2,17.7 C562.4,16.6 565.6,15.2 568.7,14.2 C571.8,13.2 574.8,12.4 578.0,11.8 C581.2,11.2 584.8,10.7 588.0,10.5 C591.2,10.3 594.5,10.4 597.0,10.5 C599.5,10.6 601.4,11.3 603.0,11.0 C604.6,10.7 605.5,10.1 606.5,8.8 C607.5,7.6 607.9,4.8 609.0,3.5 C610.1,2.2 611.5,1.4 613.0,1.2 C614.5,0.9 616.8,1.2 618.0,2.0 C619.2,2.8 619.6,4.3 620.0,6.0 C620.4,7.7 620.5,10.3 620.6,12.0 C620.7,13.7 620.9,15.0 620.6,16.2 C620.3,17.4 619.5,18.0 619.0,19.0 C618.5,20.0 618.1,20.7 617.6,22.0 C617.1,23.3 616.6,25.8 616.0,27.0 C615.4,28.2 614.1,28.3 614.0,29.5 C613.9,30.7 614.9,32.5 615.4,34.0 C615.9,35.5 616.8,37.0 617.0,38.5 C617.2,40.0 617.9,41.7 616.9,42.8 C615.9,43.9 612.3,43.5 611.0,45.0 C609.7,46.5 609.8,49.5 609.0,52.0 C608.2,54.5 607.3,57.5 606.0,60.0 C604.7,62.5 603.0,64.9 601.0,67.0 C599.0,69.1 596.7,70.9 594.0,72.5 C591.3,74.1 587.2,76.2 585.0,76.7 C582.8,77.2 582.8,76.3 580.5,75.5 C578.2,74.7 574.1,73.3 571.0,71.9 C567.9,70.5 564.1,68.8 561.6,67.2 C559.1,65.6 557.7,64.3 555.7,62.5 C553.7,60.7 552.0,58.4 549.8,56.6 C547.6,54.8 545.1,53.5 542.7,51.9 C540.4,50.3 538.1,49.2 535.7,47.2 C533.4,45.2 531.0,42.3 528.6,40.1 C526.2,37.9 523.5,36.2 521.5,34.2 C519.5,32.2 518.4,30.5 516.8,28.3 C515.2,26.1 513.2,23.6 512.0,21.2 C510.8,18.8 509.9,16.0 509.7,14.2 C509.5,12.4 510.3,11.7 510.9,10.6Z" fill="none" stroke="#555" stroke-width="0.7" opacity="0.85"/>
<path d="M599.5,18 C603,14 611,13.5 616.5,16.5 C620,20 619.5,26.5 614.5,29.5 C608.5,31.5 602,28 599.5,22.5Z" fill="#f6f6f6" stroke="#6a6a6a" stroke-width="0.5" opacity="0.95"/>
<path d="M600.5,19 C602,24 606,28 612,29" stroke="#bbb" stroke-width="1.2" fill="none" opacity="0.6"/>
<path d="M522,34.5 L519,38 L525,37Z" fill="#ddd" stroke="#888" stroke-width="0.3"/>
<path d="M618,20.6 L624.2,23.5 L617.5,24.5Z" fill="#f4f4f4" stroke="#888" stroke-width="0.3"/>
<path d="M616.5,37 L621.3,39.8 L616.5,41.5Z" fill="#f4f4f4" stroke="#888" stroke-width="0.3"/>
<circle cx="575" cy="45.1" r="4.1" fill="#1666b6"/>
<text x="575" y="47.4" font-size="6.4" font-weight="bold" fill="#fff" text-anchor="middle">1</text>
<circle cx="585.9" cy="43.5" r="4.1" fill="#1666b6"/>
<text x="585.9" y="45.8" font-size="6.4" font-weight="bold" fill="#fff" text-anchor="middle">2</text>
<circle cx="597.4" cy="40.1" r="4.1" fill="#1666b6"/>
<text x="597.4" y="42.4" font-size="6.4" font-weight="bold" fill="#fff" text-anchor="middle">3</text>
<circle cx="608.3" cy="36.9" r="4.1" fill="#1666b6"/>
<text x="608.3" y="39.2" font-size="6.4" font-weight="bold" fill="#fff" text-anchor="middle">4</text>
<rect x="200" y="19.2" width="12" height="56" fill="url(#cbA1)"/>
<rect x="200" y="75" width="12" height="2.4" fill="#777"/>
<polygon points="190.6,24.8 193.8,24.8 193.8,26.6 199.6,28.4 193.8,29.8 190.6,29.8" fill="#9a22f2"/>
<polygon points="188.2,51.2 191.5,51.8 188.2,52.6" fill="#60e060"/>
<polygon points="190.6,73.6 194,73.6 199.6,75.4 194,76.4 194,78.4 190.6,78.4" fill="#777"/>
<text x="209.9" y="16.4" font-size="8.4" font-weight="normal" text-anchor="start" fill="#000" textLength="19.0" lengthAdjust="spacingAndGlyphs" >[mV]</text>
<text x="217.2" y="30.7" font-size="8.2" font-weight="normal" text-anchor="start" fill="#000" >5</text>
<text x="216.9" y="76.7" font-size="8.2" font-weight="normal" text-anchor="start" fill="#000" >0</text>
<rect x="197.4" y="114.4" width="12" height="49.2" fill="url(#cbA2)" stroke="#555" stroke-width="0.6"/>
<rect x="197.4" y="161" width="12" height="2.6" fill="#888" stroke="#555" stroke-width="0.6"/>
<text x="215.6" y="117.75" font-size="7.9" font-weight="normal" text-anchor="start" fill="#000" textLength="4.4" lengthAdjust="spacingAndGlyphs" >5</text>
<text x="215.6" y="127.65" font-size="7.9" font-weight="normal" text-anchor="start" fill="#000" textLength="4.4" lengthAdjust="spacingAndGlyphs" >4</text>
<text x="215.6" y="137.55" font-size="7.9" font-weight="normal" text-anchor="start" fill="#000" textLength="4.4" lengthAdjust="spacingAndGlyphs" >3</text>
<text x="215.6" y="147.45000000000002" font-size="7.9" font-weight="normal" text-anchor="start" fill="#000" textLength="4.4" lengthAdjust="spacingAndGlyphs" >2</text>
<text x="215.6" y="157.35" font-size="7.9" font-weight="normal" text-anchor="start" fill="#000" textLength="4.4" lengthAdjust="spacingAndGlyphs" >1</text>
<text x="215.6" y="167.25" font-size="7.9" font-weight="normal" text-anchor="start" fill="#000" textLength="4.4" lengthAdjust="spacingAndGlyphs" >0</text>
<rect x="445" y="17.8" width="8.8" height="49" fill="url(#cbB1)"/>
<rect x="445" y="66.7" width="8.8" height="12.3" fill="#aaa"/>
<polygon points="438,17.8 440.7,17.8 440.7,22.8 444.2,25.5 438.4,32.8" fill="#9a22f0"/>
<polygon points="432.2,39 438.6,46.4 433,53.8" fill="#a6ee62"/>
<polygon points="437.8,60.2 444.4,68.2 441.6,79 437.8,79" fill="#aaa"/>
<text x="458.0" y="16.5" font-size="8.4" font-weight="normal" text-anchor="start" fill="#000" textLength="16.8" lengthAdjust="spacingAndGlyphs" >[ms]</text>
<text x="459.3" y="31.4" font-size="8.5" font-weight="normal" text-anchor="start" fill="#000" textLength="13.9" lengthAdjust="spacingAndGlyphs" >120</text>
<text x="460.0" y="72.3" font-size="8.6" font-weight="bold" text-anchor="start" fill="#000" textLength="5.0" lengthAdjust="spacingAndGlyphs" >0</text>
<rect x="442.5" y="107.5" width="11" height="62.8" fill="url(#cbB2)" stroke="#555" stroke-width="0.5"/>
<text x="459.5" y="111.75" font-size="8.8" font-weight="normal" text-anchor="start" fill="#000" textLength="12.450000000000001" lengthAdjust="spacingAndGlyphs" >120</text>
<text x="459.5" y="122.0" font-size="8.8" font-weight="normal" text-anchor="start" fill="#000" textLength="12.450000000000001" lengthAdjust="spacingAndGlyphs" >100</text>
<text x="459.5" y="132.25" font-size="8.8" font-weight="normal" text-anchor="start" fill="#000" textLength="8.3" lengthAdjust="spacingAndGlyphs" >80</text>
<text x="459.5" y="142.5" font-size="8.8" font-weight="normal" text-anchor="start" fill="#000" textLength="8.3" lengthAdjust="spacingAndGlyphs" >60</text>
<text x="459.5" y="152.75" font-size="8.8" font-weight="normal" text-anchor="start" fill="#000" textLength="8.3" lengthAdjust="spacingAndGlyphs" >40</text>
<text x="459.5" y="163.0" font-size="8.8" font-weight="normal" text-anchor="start" fill="#000" textLength="8.3" lengthAdjust="spacingAndGlyphs" >20</text>
<text x="459.5" y="173.25" font-size="8.8" font-weight="normal" text-anchor="start" fill="#000" textLength="4.15" lengthAdjust="spacingAndGlyphs" >0</text>
<rect x="50" y="198.4" width="156" height="116.8" fill="none" stroke="#d4d4d4" stroke-width="0.7"/>
<line x1="50" y1="198.4" x2="50" y2="315.2" stroke="#bdbdbd" stroke-width="0.8"/>
<line x1="50" y1="315.2" x2="206" y2="315.2" stroke="#bdbdbd" stroke-width="0.8"/>
<line x1="50.3" y1="315.2" x2="50.3" y2="317.3" stroke="#bdbdbd" stroke-width="0.6"/>
<text x="50.3" y="326.0" font-size="6.3" font-weight="normal" text-anchor="middle" fill="#333" >0</text>
<line x1="47.9" y1="315.2" x2="50" y2="315.2" stroke="#bdbdbd" stroke-width="0.6"/>
<text x="42.3" y="317.4" font-size="6.3" font-weight="normal" text-anchor="middle" fill="#333" >0</text>
<line x1="72.4" y1="315.2" x2="72.4" y2="317.3" stroke="#bdbdbd" stroke-width="0.6"/>
<text x="72.4" y="326.0" font-size="6.3" font-weight="normal" text-anchor="middle" fill="#333" >1</text>
<line x1="47.9" y1="298.5" x2="50" y2="298.5" stroke="#bdbdbd" stroke-width="0.6"/>
<text x="42.3" y="300.7" font-size="6.3" font-weight="normal" text-anchor="middle" fill="#333" >1</text>
<line x1="94.5" y1="315.2" x2="94.5" y2="317.3" stroke="#bdbdbd" stroke-width="0.6"/>
<text x="94.5" y="326.0" font-size="6.3" font-weight="normal" text-anchor="middle" fill="#333" >2</text>
<line x1="47.9" y1="281.8" x2="50" y2="281.8" stroke="#bdbdbd" stroke-width="0.6"/>
<text x="42.3" y="284.0" font-size="6.3" font-weight="normal" text-anchor="middle" fill="#333" >2</text>
<line x1="116.6" y1="315.2" x2="116.6" y2="317.3" stroke="#bdbdbd" stroke-width="0.6"/>
<text x="116.6" y="326.0" font-size="6.3" font-weight="normal" text-anchor="middle" fill="#333" >3</text>
<line x1="47.9" y1="265.0" x2="50" y2="265.0" stroke="#bdbdbd" stroke-width="0.6"/>
<text x="42.3" y="267.3" font-size="6.3" font-weight="normal" text-anchor="middle" fill="#333" >3</text>
<line x1="138.7" y1="315.2" x2="138.7" y2="317.3" stroke="#bdbdbd" stroke-width="0.6"/>
<text x="138.7" y="326.0" font-size="6.3" font-weight="normal" text-anchor="middle" fill="#333" >4</text>
<line x1="47.9" y1="248.3" x2="50" y2="248.3" stroke="#bdbdbd" stroke-width="0.6"/>
<text x="42.3" y="250.6" font-size="6.3" font-weight="normal" text-anchor="middle" fill="#333" >4</text>
<line x1="160.8" y1="315.2" x2="160.8" y2="317.3" stroke="#bdbdbd" stroke-width="0.6"/>
<text x="160.8" y="326.0" font-size="6.3" font-weight="normal" text-anchor="middle" fill="#333" >5</text>
<line x1="47.9" y1="231.6" x2="50" y2="231.6" stroke="#bdbdbd" stroke-width="0.6"/>
<text x="42.3" y="233.8" font-size="6.3" font-weight="normal" text-anchor="middle" fill="#333" >5</text>
<line x1="182.9" y1="315.2" x2="182.9" y2="317.3" stroke="#bdbdbd" stroke-width="0.6"/>
<text x="182.9" y="326.0" font-size="6.3" font-weight="normal" text-anchor="middle" fill="#333" >6</text>
<line x1="47.9" y1="214.9" x2="50" y2="214.9" stroke="#bdbdbd" stroke-width="0.6"/>
<text x="42.3" y="217.1" font-size="6.3" font-weight="normal" text-anchor="middle" fill="#333" >6</text>
<line x1="205.0" y1="315.2" x2="205.0" y2="317.3" stroke="#bdbdbd" stroke-width="0.6"/>
<text x="205.0" y="326.0" font-size="6.3" font-weight="normal" text-anchor="middle" fill="#333" >7</text>
<line x1="47.9" y1="198.2" x2="50" y2="198.2" stroke="#bdbdbd" stroke-width="0.6"/>
<text x="42.3" y="200.4" font-size="6.3" font-weight="normal" text-anchor="middle" fill="#333" >7</text>
<text x="90.5" y="337.0" font-size="7.6" font-weight="bold" text-anchor="start" fill="#222" textLength="70.5" lengthAdjust="spacingAndGlyphs" >Virtual voltage [mV]</text>
<text x="0" y="0" font-size="6.7" font-weight="bold" fill="#222" text-anchor="middle" transform="translate(32.2,256.5) rotate(-90)">Clinical Voltage [mV]</text>
<text x="123.8" y="220.7" font-size="10.3" font-weight="bold" text-anchor="start" fill="#111" textLength="38.5" lengthAdjust="spacingAndGlyphs" >R=0.933</text>
<line x1="50.6" y1="313.6" x2="185.8" y2="217.8" stroke="#9a9a9a" stroke-width="0.7"/>
<circle cx="185.7" cy="210.8" r="1.05" fill="#111"/>
<circle cx="180.8" cy="229.7" r="1.05" fill="#111"/>
<circle cx="169.7" cy="236.5" r="1.05" fill="#111"/>
<circle cx="159.5" cy="239.6" r="1.05" fill="#111"/>
<circle cx="150.8" cy="241.5" r="1.05" fill="#111"/>
<circle cx="148.2" cy="245.7" r="1.05" fill="#111"/>
<circle cx="143.4" cy="242.5" r="1.05" fill="#111"/>
<circle cx="137.7" cy="249.6" r="1.05" fill="#111"/>
<circle cx="121.3" cy="246.8" r="1.05" fill="#111"/>
<circle cx="120.0" cy="251.1" r="1.05" fill="#111"/>
<circle cx="124.1" cy="253.3" r="1.05" fill="#111"/>
<circle cx="119.7" cy="255.3" r="1.05" fill="#111"/>
<circle cx="127.8" cy="256.7" r="1.05" fill="#111"/>
<circle cx="111.5" cy="256.4" r="1.05" fill="#111"/>
<circle cx="112.1" cy="260.1" r="1.05" fill="#111"/>
<circle cx="115.1" cy="260.8" r="1.05" fill="#111"/>
<circle cx="121.6" cy="262.1" r="1.05" fill="#111"/>
<circle cx="123.6" cy="262.6" r="1.05" fill="#111"/>
<circle cx="129.0" cy="262.3" r="1.05" fill="#111"/>
<circle cx="124.1" cy="264.5" r="1.05" fill="#111"/>
<circle cx="112.6" cy="265.1" r="1.05" fill="#111"/>
<circle cx="99.9" cy="262.0" r="1.05" fill="#111"/>
<circle cx="91.5" cy="267.9" r="1.05" fill="#111"/>
<circle cx="102.8" cy="270.0" r="1.05" fill="#111"/>
<circle cx="117.7" cy="273.3" r="1.05" fill="#111"/>
<circle cx="102.8" cy="275.1" r="1.05" fill="#111"/>
<circle cx="108.2" cy="274.7" r="1.05" fill="#111"/>
<circle cx="87.7" cy="278.5" r="1.05" fill="#111"/>
<circle cx="93.6" cy="278.8" r="1.05" fill="#111"/>
<circle cx="100.8" cy="278.8" r="1.05" fill="#111"/>
<circle cx="105.6" cy="277.8" r="1.05" fill="#111"/>
<circle cx="107.9" cy="279.1" r="1.05" fill="#111"/>
<circle cx="108.6" cy="280.6" r="1.05" fill="#111"/>
<circle cx="100.2" cy="281.0" r="1.05" fill="#111"/>
<circle cx="104.6" cy="282.5" r="1.05" fill="#111"/>
<circle cx="112.6" cy="282.8" r="1.05" fill="#111"/>
<circle cx="86.9" cy="284.2" r="1.05" fill="#111"/>
<circle cx="93.8" cy="284.0" r="1.05" fill="#111"/>
<circle cx="93.4" cy="285.7" r="1.05" fill="#111"/>
<circle cx="130.0" cy="262.0" r="1.05" fill="#111"/>
<circle cx="91.7" cy="268.0" r="1.05" fill="#111"/>
<circle cx="83.4" cy="279.3" r="1.05" fill="#111"/>
<circle cx="87.6" cy="278.3" r="1.05" fill="#111"/>
<circle cx="93.2" cy="278.6" r="1.05" fill="#111"/>
<circle cx="58.8" cy="289.4" r="1.05" fill="#111"/>
<circle cx="51.3" cy="299.9" r="1.05" fill="#111"/>
<circle cx="79.6" cy="284.3" r="1.05" fill="#111"/>
<circle cx="86.9" cy="284.3" r="1.05" fill="#111"/>
<circle cx="93.6" cy="283.8" r="1.05" fill="#111"/>
<circle cx="75.6" cy="287.3" r="1.05" fill="#111"/>
<circle cx="81.1" cy="286.1" r="1.05" fill="#111"/>
<circle cx="91.7" cy="287.6" r="1.05" fill="#111"/>
<circle cx="84.1" cy="289.1" r="1.05" fill="#111"/>
<circle cx="82.3" cy="291.4" r="1.05" fill="#111"/>
<circle cx="78.1" cy="291.4" r="1.05" fill="#111"/>
<circle cx="69.1" cy="291.8" r="1.05" fill="#111"/>
<circle cx="89.4" cy="292.9" r="1.05" fill="#111"/>
<circle cx="87.2" cy="295.1" r="1.05" fill="#111"/>
<circle cx="76.6" cy="294.4" r="1.05" fill="#111"/>
<circle cx="72.8" cy="293.6" r="1.05" fill="#111"/>
<circle cx="80.4" cy="297.4" r="1.05" fill="#111"/>
<circle cx="77.4" cy="301.1" r="1.05" fill="#111"/>
<circle cx="88.4" cy="299.3" r="1.05" fill="#111"/>
<circle cx="70.6" cy="295.9" r="1.05" fill="#111"/>
<circle cx="69.1" cy="298.1" r="1.05" fill="#111"/>
<circle cx="66.1" cy="298.9" r="1.05" fill="#111"/>
<circle cx="63.8" cy="301.1" r="1.05" fill="#111"/>
<circle cx="67.6" cy="301.9" r="1.05" fill="#111"/>
<circle cx="73.6" cy="304.5" r="1.05" fill="#111"/>
<circle cx="60.8" cy="303.4" r="1.05" fill="#111"/>
<circle cx="67.6" cy="305.7" r="1.05" fill="#111"/>
<circle cx="63.1" cy="310.2" r="1.05" fill="#111"/>
<circle cx="56.3" cy="305.7" r="1.05" fill="#111"/>
<circle cx="53.3" cy="308.7" r="1.05" fill="#111"/>
<circle cx="55.5" cy="310.2" r="1.05" fill="#111"/>
<circle cx="51.0" cy="310.2" r="1.05" fill="#111"/>
<circle cx="51.8" cy="312.4" r="1.05" fill="#111"/>
<circle cx="57.0" cy="311.7" r="1.05" fill="#111"/>
<circle cx="54.0" cy="313.2" r="1.05" fill="#111"/>
<circle cx="65.3" cy="307.9" r="1.05" fill="#111"/>
<circle cx="61.6" cy="307.2" r="1.05" fill="#111"/>
<circle cx="59.3" cy="304.5" r="1.05" fill="#111"/>
<circle cx="72.1" cy="299.9" r="1.05" fill="#111"/>
<circle cx="75.1" cy="297.4" r="1.05" fill="#111"/>
<circle cx="82.6" cy="294.5" r="1.05" fill="#111"/>
<circle cx="85.7" cy="289.8" r="1.05" fill="#111"/>
<circle cx="88.7" cy="287.6" r="1.05" fill="#111"/>
<circle cx="62.3" cy="305.1" r="1.05" fill="#111"/>
<circle cx="50.4" cy="314.4" r="1.05" fill="#111"/>
<circle cx="51.0" cy="314.4" r="1.05" fill="#111"/>
<circle cx="66.6" cy="303.6" r="1.05" fill="#111"/>
<circle cx="65.9" cy="305.2" r="1.05" fill="#111"/>
<circle cx="54.3" cy="314.0" r="1.05" fill="#111"/>
<circle cx="69.6" cy="295.6" r="1.05" fill="#111"/>
<circle cx="52.0" cy="314.4" r="1.05" fill="#111"/>
<circle cx="55.0" cy="311.3" r="1.05" fill="#111"/>
<circle cx="86.8" cy="287.2" r="1.05" fill="#111"/>
<circle cx="74.9" cy="294.8" r="1.05" fill="#111"/>
<circle cx="52.5" cy="313.8" r="1.05" fill="#111"/>
<circle cx="77.2" cy="294.2" r="1.05" fill="#111"/>
<circle cx="72.2" cy="298.1" r="1.05" fill="#111"/>
<circle cx="84.3" cy="291.9" r="1.05" fill="#111"/>
<circle cx="69.8" cy="299.6" r="1.05" fill="#111"/>
<circle cx="80.1" cy="287.6" r="1.05" fill="#111"/>
<circle cx="50.9" cy="311.5" r="1.05" fill="#111"/>
<circle cx="53.9" cy="312.3" r="1.05" fill="#111"/>
<circle cx="78.0" cy="298.1" r="1.05" fill="#111"/>
<circle cx="88.4" cy="284.3" r="1.05" fill="#111"/>
<circle cx="72.4" cy="299.3" r="1.05" fill="#111"/>
<circle cx="88.9" cy="289.4" r="1.05" fill="#111"/>
<circle cx="79.8" cy="294.4" r="1.05" fill="#111"/>
<circle cx="79.5" cy="296.4" r="1.05" fill="#111"/>
<circle cx="57.6" cy="306.7" r="1.05" fill="#111"/>
<circle cx="49.7" cy="314.4" r="1.05" fill="#111"/>
<circle cx="55.6" cy="311.9" r="1.05" fill="#111"/>
<circle cx="53.6" cy="310.9" r="1.05" fill="#111"/>
<circle cx="90.6" cy="286.2" r="1.05" fill="#111"/>
<circle cx="73.7" cy="302.4" r="1.05" fill="#111"/>
<circle cx="88.4" cy="285.6" r="1.05" fill="#111"/>
<circle cx="65.4" cy="309.8" r="1.05" fill="#111"/>
<circle cx="54.8" cy="311.0" r="1.05" fill="#111"/>
<circle cx="55.2" cy="309.9" r="1.05" fill="#111"/>
<circle cx="60.1" cy="309.3" r="1.05" fill="#111"/>
<circle cx="59.5" cy="308.1" r="1.05" fill="#111"/>
<circle cx="76.8" cy="294.9" r="1.05" fill="#111"/>
<circle cx="81.3" cy="293.7" r="1.05" fill="#111"/>
<circle cx="85.8" cy="293.6" r="1.05" fill="#111"/>
<circle cx="63.5" cy="304.8" r="1.05" fill="#111"/>
<circle cx="76.5" cy="296.5" r="1.05" fill="#111"/>
<circle cx="57.1" cy="309.3" r="1.05" fill="#111"/>
<circle cx="52.2" cy="314.4" r="1.05" fill="#111"/>
<circle cx="52.4" cy="313.2" r="1.05" fill="#111"/>
<circle cx="88.6" cy="287.9" r="1.05" fill="#111"/>
<circle cx="57.2" cy="308.1" r="1.05" fill="#111"/>
<circle cx="56.2" cy="314.4" r="1.05" fill="#111"/>
<circle cx="66.8" cy="302.8" r="1.05" fill="#111"/>
<circle cx="52.0" cy="312.2" r="1.05" fill="#111"/>
<circle cx="86.8" cy="288.7" r="1.05" fill="#111"/>
<circle cx="92.9" cy="284.2" r="1.05" fill="#111"/>
<circle cx="73.2" cy="299.7" r="1.05" fill="#111"/>
<circle cx="97.0" cy="285.1" r="1.05" fill="#111"/>
<circle cx="57.8" cy="308.5" r="1.05" fill="#111"/>
<circle cx="80.8" cy="292.1" r="1.05" fill="#111"/>
<circle cx="61.7" cy="303.7" r="1.05" fill="#111"/>
<circle cx="97.5" cy="285.4" r="1.05" fill="#111"/>
<circle cx="86.0" cy="290.9" r="1.05" fill="#111"/>
<circle cx="69.8" cy="300.6" r="1.05" fill="#111"/>
<circle cx="50.5" cy="313.4" r="1.05" fill="#111"/>
<circle cx="80.7" cy="295.1" r="1.05" fill="#111"/>
<circle cx="96.8" cy="284.9" r="1.05" fill="#111"/>
<circle cx="63.0" cy="304.8" r="1.05" fill="#111"/>
<circle cx="56.5" cy="308.5" r="1.05" fill="#111"/>
<circle cx="91.7" cy="288.0" r="1.05" fill="#111"/>
<circle cx="77.2" cy="296.8" r="1.05" fill="#111"/>
<circle cx="79.7" cy="297.6" r="1.05" fill="#111"/>
<circle cx="81.3" cy="292.1" r="1.05" fill="#111"/>
<circle cx="83.0" cy="287.6" r="1.05" fill="#111"/>
<line x1="295.1" y1="198.9" x2="441" y2="198.9" stroke="#e6e2d6" stroke-width="0.9"/>
<line x1="441" y1="198.9" x2="441" y2="312.2" stroke="#e4e4e4" stroke-width="0.7"/>
<line x1="295.1" y1="198.9" x2="295.1" y2="315" stroke="#d0d0d0" stroke-width="0.8"/>
<line x1="293" y1="312.2" x2="441" y2="312.2" stroke="#d0d0d0" stroke-width="0.8"/>
<line x1="294.8" y1="312.2" x2="294.8" y2="315" stroke="#d0d0d0" stroke-width="0.6"/>
<text x="295.1" y="323.8" font-size="6.4" font-weight="bold" text-anchor="middle" fill="#222" >30</text>
<line x1="293" y1="312.1" x2="295.1" y2="312.1" stroke="#d0d0d0" stroke-width="0.6"/>
<text x="285.4" y="314.4" font-size="6.4" font-weight="bold" text-anchor="middle" fill="#222" >30</text>
<line x1="343.5" y1="312.2" x2="343.5" y2="315" stroke="#d0d0d0" stroke-width="0.6"/>
<text x="343.8" y="323.8" font-size="6.4" font-weight="bold" text-anchor="middle" fill="#222" >50</text>
<line x1="293" y1="274.4" x2="295.1" y2="274.4" stroke="#d0d0d0" stroke-width="0.6"/>
<text x="285.4" y="276.7" font-size="6.4" font-weight="bold" text-anchor="middle" fill="#222" >50</text>
<line x1="392.1" y1="312.2" x2="392.1" y2="315" stroke="#d0d0d0" stroke-width="0.6"/>
<text x="392.4" y="323.8" font-size="6.4" font-weight="bold" text-anchor="middle" fill="#222" >70</text>
<line x1="293" y1="236.6" x2="295.1" y2="236.6" stroke="#d0d0d0" stroke-width="0.6"/>
<text x="285.4" y="238.9" font-size="6.4" font-weight="bold" text-anchor="middle" fill="#222" >70</text>
<line x1="440.8" y1="312.2" x2="440.8" y2="315" stroke="#d0d0d0" stroke-width="0.6"/>
<text x="441.1" y="323.8" font-size="6.4" font-weight="bold" text-anchor="middle" fill="#222" >90</text>
<line x1="293" y1="198.9" x2="295.1" y2="198.9" stroke="#d0d0d0" stroke-width="0.6"/>
<text x="285.4" y="201.2" font-size="6.4" font-weight="bold" text-anchor="middle" fill="#222" >90</text>
<text x="343.4" y="333.9" font-size="6.8" font-weight="bold" text-anchor="start" fill="#222" textLength="49.6" lengthAdjust="spacingAndGlyphs" >Virtual LAT [ms]</text>
<text x="0" y="0" font-size="6.3" font-weight="bold" fill="#222" text-anchor="middle" transform="translate(279.1,255.5) rotate(-90)">Clinical LAT [ms]</text>
<text x="371.9" y="217.8" font-size="10.3" font-weight="bold" text-anchor="start" fill="#111" textLength="37.3" lengthAdjust="spacingAndGlyphs" >R=0.958</text>
<line x1="313.5" y1="309.0" x2="408.3" y2="234.7" stroke="#a0a0a0" stroke-width="0.7"/>
<polygon points="313.3,295.6 315.9,298.2 313.3,300.8 310.7,298.2" fill="#4a7cc6"/>
<polygon points="328.0,293.5 330.6,296.1 328.0,298.7 325.4,296.1" fill="#4a7cc6"/>
<polygon points="346.6,280.2 349.2,282.8 346.6,285.4 344.0,282.8" fill="#4a7cc6"/>
<polygon points="351.6,280.8 354.2,283.4 351.6,286.0 349.0,283.4" fill="#4a7cc6"/>
<polygon points="356.9,291.1 359.5,293.7 356.9,296.3 354.3,293.7" fill="#4a7cc6"/>
<polygon points="362.8,284.1 365.4,286.7 362.8,289.3 360.2,286.7" fill="#4a7cc6"/>
<polygon points="357.5,259.6 360.1,262.2 357.5,264.8 354.9,262.2" fill="#4a7cc6"/>
<polygon points="362.8,255.7 365.4,258.3 362.8,260.9 360.2,258.3" fill="#4a7cc6"/>
<polygon points="367.3,267.0 369.9,269.6 367.3,272.2 364.7,269.6" fill="#4a7cc6"/>
<polygon points="367.3,271.4 369.9,274.0 367.3,276.6 364.7,274.0" fill="#4a7cc6"/>
<polygon points="378.2,257.2 380.8,259.8 378.2,262.4 375.6,259.8" fill="#4a7cc6"/>
<polygon points="381.7,250.1 384.3,252.7 381.7,255.3 379.1,252.7" fill="#4a7cc6"/>
<polygon points="388.5,253.7 391.1,256.3 388.5,258.9 385.9,256.3" fill="#4a7cc6"/>
<polygon points="389.1,242.5 391.7,245.1 389.1,247.7 386.5,245.1" fill="#4a7cc6"/>
<polygon points="397.3,243.4 399.9,246.0 397.3,248.6 394.7,246.0" fill="#4a7cc6"/>
<polygon points="398.2,229.2 400.8,231.8 398.2,234.4 395.6,231.8" fill="#4a7cc6"/>
<polygon points="408.0,226.5 410.6,229.1 408.0,231.7 405.4,229.1" fill="#4a7cc6"/>
<path d="M533.2,141.7v-1.6M533.2,95.7v1.6M562.6,141.7v-1.6M562.6,95.7v1.6M592.0,141.7v-1.6M592.0,95.7v1.6M621.3,141.7v-1.6M621.3,95.7v1.6M650.6,141.7v-1.6M650.6,95.7v1.6M680.0,141.7v-1.6M680.0,95.7v1.6M503.9,141.7h1.6M680.0,141.7h-1.6M503.9,130.2h1.6M680.0,130.2h-1.6M503.9,118.7h1.6M680.0,118.7h-1.6M503.9,107.2h1.6M680.0,107.2h-1.6M503.9,95.7h1.6M680.0,95.7h-1.6" stroke="#444" stroke-width="0.6" fill="none"/>
<path d="M504.0,118.7 C511.7,118.7 541.0,118.5 550.0,118.5 C559.0,118.5 555.9,118.7 557.7,119.0 C559.5,119.3 559.9,119.3 560.8,120.1 C561.7,120.9 562.5,124.5 563.1,123.6 C563.7,122.7 564.0,118.4 564.6,114.7 C565.2,111.0 566.0,102.4 566.6,101.6 C567.2,100.8 567.6,104.6 568.1,110.1 C568.6,115.6 569.3,131.4 569.7,134.7 C570.1,138.0 570.2,132.5 570.7,130.1 C571.2,127.7 571.8,122.9 572.7,120.1 C573.6,117.3 574.9,113.9 576.1,113.5 C577.3,113.1 578.5,116.4 580.0,117.8 C581.5,119.2 583.6,121.2 585.3,121.6 C587.0,122.0 588.2,120.7 590.0,120.1 C591.8,119.5 594.0,117.9 596.0,117.8 C598.0,117.7 599.6,119.1 602.2,119.3 C604.8,119.5 608.4,119.2 611.4,119.0 C614.4,118.8 615.2,118.1 620.0,118.1 C624.8,118.1 630.0,118.8 640.0,118.9 C650.0,119.0 673.3,118.7 680.0,118.7" stroke="#ff2a2a" stroke-width="0.9" fill="none" stroke-linejoin="round"/>
<path d="M504.0,118.7 C508.3,118.8 524.0,118.9 530.0,119.0 C536.0,119.1 536.7,119.5 540.0,119.3 C543.3,119.1 547.8,118.1 550.0,117.8 C552.2,117.5 551.8,117.2 553.0,117.5 C554.2,117.8 555.8,118.6 557.0,119.3 C558.2,120.0 559.0,122.0 560.0,121.6 C561.0,121.2 562.1,118.6 563.0,117.0 C563.9,115.4 564.6,111.8 565.4,111.9 C566.2,112.0 566.7,114.0 567.7,117.8 C568.7,121.6 570.2,133.6 571.2,135.0 C572.2,136.4 573.0,129.3 573.8,126.2 C574.6,123.1 575.3,117.9 576.1,116.2 C576.9,114.5 577.5,116.7 578.4,116.2 C579.3,115.7 580.5,113.1 581.5,113.2 C582.5,113.3 583.6,116.3 584.6,117.0 C585.6,117.7 586.6,117.2 587.6,117.5 C588.6,117.8 589.7,119.0 590.7,119.0 C591.7,119.0 592.9,118.5 593.8,117.8 C594.7,117.1 595.2,114.7 596.0,114.7 C596.8,114.7 597.4,117.0 598.4,117.8 C599.4,118.6 600.5,119.2 602.2,119.6 C603.9,120.0 606.4,120.2 608.4,120.1 C610.4,120.1 612.6,119.6 614.5,119.3 C616.4,119.0 615.8,118.2 620.0,118.1 C624.2,118.1 630.0,118.9 640.0,119.0 C650.0,119.1 673.3,118.8 680.0,118.7" stroke="#2a2aff" stroke-width="0.9" fill="none" stroke-linejoin="round"/>
<rect x="503.9" y="95.7" width="176.1" height="46.0" fill="none" stroke="#555" stroke-width="0.8"/>
<text x="501.2" y="97.5" font-size="5.2" font-weight="normal" text-anchor="end" fill="#333" >10</text>
<text x="501.2" y="109.0" font-size="5.2" font-weight="normal" text-anchor="end" fill="#333" >5</text>
<text x="501.2" y="120.5" font-size="5.2" font-weight="normal" text-anchor="end" fill="#333" >0</text>
<text x="501.2" y="132.0" font-size="5.2" font-weight="normal" text-anchor="end" fill="#333" >-5</text>
<text x="501.2" y="143.5" font-size="5.2" font-weight="normal" text-anchor="end" fill="#333" >-10</text>
<text x="533.2" y="148.3" font-size="5.2" font-weight="normal" text-anchor="middle" fill="#333" >50</text>
<text x="562.6" y="148.3" font-size="5.2" font-weight="normal" text-anchor="middle" fill="#333" >100</text>
<text x="592.0" y="148.3" font-size="5.2" font-weight="normal" text-anchor="middle" fill="#333" >150</text>
<text x="621.3" y="148.3" font-size="5.2" font-weight="normal" text-anchor="middle" fill="#333" >200</text>
<text x="650.6" y="148.3" font-size="5.2" font-weight="normal" text-anchor="middle" fill="#333" >250</text>
<text x="680.0" y="148.3" font-size="5.2" font-weight="normal" text-anchor="middle" fill="#333" >300</text>
<circle cx="515" cy="106.4" r="5.9" fill="#1666b6"/>
<text x="515" y="109.8" font-size="9.4" font-weight="bold" text-anchor="middle" fill="#fff" >1</text>
<path d="M533.2,198.6v-1.6M533.2,152.6v1.6M562.6,198.6v-1.6M562.6,152.6v1.6M592.0,198.6v-1.6M592.0,152.6v1.6M621.3,198.6v-1.6M621.3,152.6v1.6M650.6,198.6v-1.6M650.6,152.6v1.6M680.0,198.6v-1.6M680.0,152.6v1.6M503.9,198.6h1.6M680.0,198.6h-1.6M503.9,187.1h1.6M680.0,187.1h-1.6M503.9,175.6h1.6M680.0,175.6h-1.6M503.9,164.1h1.6M680.0,164.1h-1.6M503.9,152.6h1.6M680.0,152.6h-1.6" stroke="#444" stroke-width="0.6" fill="none"/>
<path d="M504.0,175.6 C506.7,175.7 514.0,176.1 520.0,176.1 C526.0,176.1 533.3,175.7 540.0,175.6 C546.7,175.5 554.5,175.8 560.0,175.7 C565.5,175.6 569.9,175.1 572.8,175.3 C575.7,175.5 576.1,177.7 577.3,177.1 C578.5,176.5 579.1,172.4 580.0,171.7 C580.9,170.9 581.9,168.6 582.8,172.6 C583.7,176.6 584.5,195.1 585.2,195.4 C585.9,195.7 586.5,179.9 587.0,174.4 C587.5,168.9 587.8,163.6 588.3,162.5 C588.8,161.4 589.4,165.7 590.1,168.0 C590.9,170.3 591.6,173.9 592.8,176.2 C594.0,178.5 596.0,181.5 597.4,181.7 C598.8,181.8 599.7,178.6 601.1,177.1 C602.5,175.6 604.1,172.9 605.6,172.6 C607.1,172.3 608.7,174.4 610.2,175.3 C611.7,176.1 612.4,177.8 614.7,177.7 C617.0,177.6 620.9,175.0 623.9,174.8 C626.9,174.5 630.0,176.1 633.0,176.2 C636.0,176.3 637.5,175.3 642.1,175.3 C646.7,175.3 654.1,176.1 660.4,176.2 C666.7,176.2 676.7,175.7 680.0,175.6" stroke="#ff2a2a" stroke-width="0.9" fill="none" stroke-linejoin="round"/>
<path d="M504.0,175.6 C510.0,175.7 530.7,175.8 540.0,175.9 C549.3,176.0 554.8,176.1 560.0,175.9 C565.2,175.7 568.0,175.3 571.0,174.8 C574.0,174.2 576.5,172.5 578.2,172.6 C579.9,172.7 579.9,172.3 581.0,175.3 C582.1,178.3 583.5,190.2 584.6,190.5 C585.7,190.8 586.3,181.2 587.4,177.1 C588.5,173.0 589.8,167.4 591.0,166.2 C592.2,165.0 593.2,168.3 594.7,169.8 C596.2,171.3 597.4,173.9 600.1,175.3 C602.8,176.7 608.1,177.8 611.1,178.0 C614.1,178.2 616.0,176.6 618.4,176.2 C620.8,175.8 615.4,175.4 625.7,175.3 C636.0,175.2 671.0,175.5 680.0,175.6" stroke="#2a2aff" stroke-width="0.9" fill="none" stroke-linejoin="round"/>
<rect x="503.9" y="152.6" width="176.1" height="46.0" fill="none" stroke="#555" stroke-width="0.8"/>
<text x="501.2" y="154.4" font-size="5.2" font-weight="normal" text-anchor="end" fill="#333" >10</text>
<text x="501.2" y="165.9" font-size="5.2" font-weight="normal" text-anchor="end" fill="#333" >5</text>
<text x="501.2" y="177.4" font-size="5.2" font-weight="normal" text-anchor="end" fill="#333" >0</text>
<text x="501.2" y="188.9" font-size="5.2" font-weight="normal" text-anchor="end" fill="#333" >-5</text>
<text x="501.2" y="200.4" font-size="5.2" font-weight="normal" text-anchor="end" fill="#333" >-10</text>
<text x="533.2" y="205.2" font-size="5.2" font-weight="normal" text-anchor="middle" fill="#333" >50</text>
<text x="562.6" y="205.2" font-size="5.2" font-weight="normal" text-anchor="middle" fill="#333" >100</text>
<text x="592.0" y="205.2" font-size="5.2" font-weight="normal" text-anchor="middle" fill="#333" >150</text>
<text x="621.3" y="205.2" font-size="5.2" font-weight="normal" text-anchor="middle" fill="#333" >200</text>
<text x="650.6" y="205.2" font-size="5.2" font-weight="normal" text-anchor="middle" fill="#333" >250</text>
<text x="680.0" y="205.2" font-size="5.2" font-weight="normal" text-anchor="middle" fill="#333" >300</text>
<circle cx="515" cy="163.3" r="5.9" fill="#1666b6"/>
<text x="515" y="166.7" font-size="9.4" font-weight="bold" text-anchor="middle" fill="#fff" >2</text>
<path d="M533.2,256.1v-1.6M533.2,210.1v1.6M562.6,256.1v-1.6M562.6,210.1v1.6M592.0,256.1v-1.6M592.0,210.1v1.6M621.3,256.1v-1.6M621.3,210.1v1.6M650.6,256.1v-1.6M650.6,210.1v1.6M680.0,256.1v-1.6M680.0,210.1v1.6M503.9,256.1h1.6M680.0,256.1h-1.6M503.9,244.6h1.6M680.0,244.6h-1.6M503.9,233.1h1.6M680.0,233.1h-1.6M503.9,221.6h1.6M680.0,221.6h-1.6M503.9,210.1h1.6M680.0,210.1h-1.6" stroke="#444" stroke-width="0.6" fill="none"/>
<path d="M504.0,233.1 C517.3,233.1 569.8,233.0 583.7,232.9 C597.6,232.8 586.0,232.4 587.4,232.3 C588.8,232.1 590.8,231.3 591.9,232.0 C593.0,232.7 593.2,234.7 593.8,236.5 C594.3,238.3 594.8,244.3 595.2,242.9 C595.7,241.5 596.0,233.6 596.5,228.3 C597.0,223.0 597.5,212.2 598.0,211.0 C598.5,209.8 598.8,216.6 599.2,221.0 C599.6,225.4 600.1,233.6 600.5,237.4 C600.9,241.2 601.1,243.6 601.6,243.8 C602.1,244.0 602.9,240.5 603.8,238.4 C604.7,236.3 606.0,232.5 607.1,231.1 C608.2,229.7 609.1,229.6 610.2,229.8 C611.3,229.9 612.4,231.2 613.8,232.0 C615.2,232.8 616.9,234.5 618.4,234.7 C619.9,234.9 621.5,233.8 623.0,233.4 C624.5,233.0 625.8,232.3 627.5,232.3 C629.2,232.3 630.6,233.3 633.0,233.4 C635.4,233.5 634.2,233.0 642.0,232.9 C649.8,232.8 673.7,233.1 680.0,233.1" stroke="#ff2a2a" stroke-width="0.9" fill="none" stroke-linejoin="round"/>
<path d="M504.0,233.1 C518.2,233.2 574.2,234.1 589.2,233.4 C604.2,232.8 592.4,231.1 593.8,229.2 C595.2,227.3 596.9,222.3 597.8,221.9 C598.7,221.5 598.7,223.0 599.2,226.5 C599.8,230.0 600.4,239.1 601.1,242.9 C601.8,246.7 602.5,249.6 603.2,249.3 C604.0,249.0 604.7,244.1 605.6,241.1 C606.5,238.1 607.2,233.0 608.4,231.1 C609.6,229.2 611.5,229.6 612.9,229.8 C614.3,229.9 615.4,231.6 616.6,232.0 C617.8,232.4 618.4,232.1 620.2,232.3 C622.0,232.5 617.5,233.3 627.5,233.4 C637.5,233.5 671.2,233.2 680.0,233.1" stroke="#2a2aff" stroke-width="0.9" fill="none" stroke-linejoin="round"/>
<rect x="503.9" y="210.1" width="176.1" height="46.0" fill="none" stroke="#555" stroke-width="0.8"/>
<text x="501.2" y="211.9" font-size="5.2" font-weight="normal" text-anchor="end" fill="#333" >10</text>
<text x="501.2" y="223.4" font-size="5.2" font-weight="normal" text-anchor="end" fill="#333" >5</text>
<text x="501.2" y="234.9" font-size="5.2" font-weight="normal" text-anchor="end" fill="#333" >0</text>
<text x="501.2" y="246.4" font-size="5.2" font-weight="normal" text-anchor="end" fill="#333" >-5</text>
<text x="501.2" y="257.9" font-size="5.2" font-weight="normal" text-anchor="end" fill="#333" >-10</text>
<text x="533.2" y="262.7" font-size="5.2" font-weight="normal" text-anchor="middle" fill="#333" >50</text>
<text x="562.6" y="262.7" font-size="5.2" font-weight="normal" text-anchor="middle" fill="#333" >100</text>
<text x="592.0" y="262.7" font-size="5.2" font-weight="normal" text-anchor="middle" fill="#333" >150</text>
<text x="621.3" y="262.7" font-size="5.2" font-weight="normal" text-anchor="middle" fill="#333" >200</text>
<text x="650.6" y="262.7" font-size="5.2" font-weight="normal" text-anchor="middle" fill="#333" >250</text>
<text x="680.0" y="262.7" font-size="5.2" font-weight="normal" text-anchor="middle" fill="#333" >300</text>
<circle cx="515" cy="220.8" r="5.9" fill="#1666b6"/>
<text x="515" y="224.2" font-size="9.4" font-weight="bold" text-anchor="middle" fill="#fff" >3</text>
<path d="M533.2,313.8v-1.6M533.2,267.8v1.6M562.6,313.8v-1.6M562.6,267.8v1.6M592.0,313.8v-1.6M592.0,267.8v1.6M621.3,313.8v-1.6M621.3,267.8v1.6M650.6,313.8v-1.6M650.6,267.8v1.6M680.0,313.8v-1.6M680.0,267.8v1.6M503.9,313.8h1.6M680.0,313.8h-1.6M503.9,302.3h1.6M680.0,302.3h-1.6M503.9,290.8h1.6M680.0,290.8h-1.6M503.9,279.3h1.6M680.0,279.3h-1.6M503.9,267.8h1.6M680.0,267.8h-1.6" stroke="#444" stroke-width="0.6" fill="none"/>
<path d="M504.0,290.8 C504.7,290.9 506.7,291.7 508.0,291.6 C509.3,291.5 510.0,290.6 512.0,290.4 C514.0,290.2 517.0,290.2 520.0,290.3 C523.0,290.4 525.8,291.1 530.0,291.1 C534.2,291.1 540.0,290.5 545.0,290.4 C550.0,290.4 551.4,290.7 560.0,290.8 C568.6,290.9 589.2,290.9 596.5,290.8 C603.8,290.7 601.9,290.2 603.8,290.3 C605.7,290.4 606.7,290.3 607.8,291.2 C608.9,292.1 609.6,297.0 610.2,295.8 C610.8,294.6 611.0,288.1 611.5,283.9 C612.0,279.7 612.4,270.5 612.9,270.8 C613.4,271.1 613.8,279.2 614.2,285.7 C614.6,292.2 615.0,307.7 615.5,309.8 C616.0,311.9 616.4,301.6 616.9,298.5 C617.4,295.4 617.8,293.0 618.4,291.2 C619.0,289.4 619.6,288.3 620.2,287.5 C620.8,286.7 621.2,286.1 622.0,286.3 C622.8,286.5 623.7,287.5 624.8,288.5 C625.9,289.5 627.2,291.4 628.4,292.1 C629.6,292.9 630.7,293.1 632.1,293.0 C633.5,292.9 635.1,291.8 636.6,291.2 C638.1,290.6 639.7,289.8 641.2,289.7 C642.7,289.6 644.1,290.5 645.8,290.8 C647.5,291.1 648.8,291.6 651.2,291.6 C653.6,291.6 655.6,290.7 660.4,290.6 C665.2,290.5 676.7,290.8 680.0,290.8" stroke="#ff2a2a" stroke-width="0.9" fill="none" stroke-linejoin="round"/>
<path d="M504.0,290.8 C513.3,290.8 544.6,290.9 560.0,291.0 C575.4,291.1 589.5,290.9 596.5,291.2 C603.5,291.5 600.5,291.9 602.0,293.0 C603.5,294.1 604.6,296.4 605.6,297.6 C606.6,298.8 607.1,300.9 607.8,300.3 C608.5,299.7 609.0,296.9 609.6,293.9 C610.2,290.9 611.0,285.2 611.5,282.1 C612.0,279.0 612.4,275.1 612.9,275.1 C613.4,275.1 614.1,280.0 614.7,282.1 C615.3,284.2 615.8,286.0 616.6,287.5 C617.4,289.0 618.2,290.0 619.3,291.2 C620.4,292.4 621.6,294.1 623.0,294.5 C624.4,294.9 626.0,294.3 627.5,293.9 C629.0,293.5 630.3,292.6 632.1,292.1 C633.9,291.6 630.5,291.0 638.5,290.8 C646.5,290.6 673.1,290.8 680.0,290.8" stroke="#2a2aff" stroke-width="0.9" fill="none" stroke-linejoin="round"/>
<rect x="503.9" y="267.8" width="176.1" height="46.0" fill="none" stroke="#555" stroke-width="0.8"/>
<text x="501.2" y="269.6" font-size="5.2" font-weight="normal" text-anchor="end" fill="#333" >10</text>
<text x="501.2" y="281.1" font-size="5.2" font-weight="normal" text-anchor="end" fill="#333" >5</text>
<text x="501.2" y="292.6" font-size="5.2" font-weight="normal" text-anchor="end" fill="#333" >0</text>
<text x="501.2" y="304.1" font-size="5.2" font-weight="normal" text-anchor="end" fill="#333" >-5</text>
<text x="501.2" y="315.6" font-size="5.2" font-weight="normal" text-anchor="end" fill="#333" >-10</text>
<text x="533.2" y="320.4" font-size="5.2" font-weight="normal" text-anchor="middle" fill="#333" >50</text>
<text x="562.6" y="320.4" font-size="5.2" font-weight="normal" text-anchor="middle" fill="#333" >100</text>
<text x="592.0" y="320.4" font-size="5.2" font-weight="normal" text-anchor="middle" fill="#333" >150</text>
<text x="621.3" y="320.4" font-size="5.2" font-weight="normal" text-anchor="middle" fill="#333" >200</text>
<text x="650.6" y="320.4" font-size="5.2" font-weight="normal" text-anchor="middle" fill="#333" >250</text>
<text x="680.0" y="320.4" font-size="5.2" font-weight="normal" text-anchor="middle" fill="#333" >300</text>
<circle cx="515" cy="278.5" r="5.9" fill="#1666b6"/>
<text x="515" y="281.9" font-size="9.4" font-weight="bold" text-anchor="middle" fill="#fff" >4</text>
<text x="572.6" y="332.2" font-size="8.2" font-weight="bold" text-anchor="start" fill="#111" >Time [ms]</text>
<rect x="601.5" y="72.4" width="79" height="17.8" fill="#fff" stroke="#444" stroke-width="0.6"/>
<line x1="603.5" y1="77.1" x2="619.3" y2="77.1" stroke="#ff7070" stroke-width="0.9"/>
<line x1="603.5" y1="85.6" x2="619.3" y2="85.6" stroke="#7070ff" stroke-width="0.9"/>
<text x="620.8" y="79.4" font-size="6.25" font-weight="normal" text-anchor="start" fill="#222" >Virtual Bipolar EGM</text>
<text x="620.8" y="87.9" font-size="6.25" font-weight="normal" text-anchor="start" fill="#222" >Clinical Bipolar EGM</text>
</svg>
</body></html>
